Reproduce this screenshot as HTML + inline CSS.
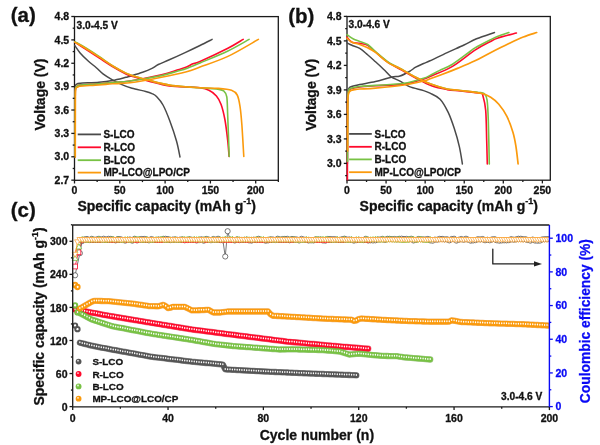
<!DOCTYPE html>
<html><head><meta charset="utf-8"><style>
html,body{margin:0;padding:0;background:#fff;}
svg{display:block;will-change:transform;filter:blur(0.3px);}
text{font-family:"Liberation Sans",sans-serif;font-weight:bold;}
.gc{fill:#fff;stroke:#555;stroke-width:.8}.rs{fill:#fff;stroke:#ff0a2c;stroke-width:.8}.gt{fill:#fff;stroke:#78c244;stroke-width:.8}.ot{fill:#fff;stroke:#fa9d2a;stroke-width:.7}
</style></head><body>
<svg width="600" height="445" viewBox="0 0 600 445">
<rect width="600" height="445" fill="#fff"/>
<rect x="74.50" y="16.60" width="203.80" height="163.70" fill="none" stroke="#1a1a1a" stroke-width="1.3"/>
<path d="M74.70,45.50 C75.60,46.73 77.85,50.32 80.10,52.90 C82.35,55.48 85.50,58.53 88.20,61.00 C90.90,63.47 93.83,65.57 96.30,67.70 C98.77,69.83 100.32,71.78 103.00,73.80 C105.68,75.82 109.25,78.00 112.40,79.80 C115.55,81.60 118.63,83.18 121.90,84.60 C125.17,86.02 128.03,87.17 132.00,88.30 C135.97,89.43 142.37,90.52 145.70,91.40 C149.03,92.28 150.20,92.73 152.00,93.60 C153.80,94.47 154.67,94.70 156.50,96.60 C158.33,98.50 160.79,100.97 163.00,105.00 C165.21,109.03 167.50,114.75 169.75,120.75 C172.00,126.75 174.79,134.96 176.50,141.00 C178.21,147.04 179.42,154.33 180.00,157.00" fill="none" stroke="#4a4a4a" stroke-width="1.5" stroke-linejoin="round" stroke-linecap="round" />
<path d="M75.00,157.00 C75.02,147.50 75.03,111.83 75.10,100.00 C75.17,88.17 75.08,88.67 75.40,86.00 C75.72,83.33 76.22,84.47 77.00,84.00 C77.78,83.53 76.43,83.50 80.10,83.20 C83.77,82.90 93.62,82.65 99.00,82.20 C104.38,81.75 107.92,81.32 112.40,80.50 C116.88,79.68 122.97,78.02 125.90,77.30 C128.83,76.58 127.22,77.03 130.00,76.20 C132.78,75.37 138.93,73.60 142.60,72.30 C146.27,71.00 149.38,69.70 152.00,68.40 C154.62,67.10 155.42,65.93 158.30,64.50 C161.18,63.07 164.83,61.78 169.30,59.80 C173.77,57.82 179.98,54.98 185.10,52.60 C190.22,50.22 195.50,47.70 200.00,45.50 C204.50,43.30 210.08,40.42 212.10,39.40" fill="none" stroke="#4a4a4a" stroke-width="1.5" stroke-linejoin="round" stroke-linecap="round" />
<path d="M75.10,157.00 C75.12,147.50 75.12,111.50 75.20,100.00 C75.28,88.50 75.22,90.33 75.60,88.00 C75.98,85.67 76.77,86.50 77.50,86.00 C78.23,85.50 76.42,85.37 80.00,85.00 C83.58,84.63 93.60,84.22 99.00,83.80 C104.40,83.38 107.23,82.97 112.40,82.50 C117.57,82.03 121.82,82.28 130.00,81.00 C138.18,79.72 153.63,76.62 161.50,74.80 C169.37,72.98 173.02,71.40 177.20,70.10 C181.38,68.80 183.98,68.05 186.60,67.00 C189.22,65.95 190.67,64.72 192.90,63.80 C195.13,62.88 194.17,64.08 200.00,61.50 C205.83,58.92 220.70,51.98 227.90,48.30 C235.10,44.62 240.65,40.88 243.20,39.40" fill="none" stroke="#ff0a2c" stroke-width="1.6" stroke-linejoin="round" stroke-linecap="round" />
<path d="M74.70,42.10 C76.50,43.27 81.45,46.48 85.50,49.10 C89.55,51.72 94.52,54.88 99.00,57.80 C103.48,60.72 107.92,63.90 112.40,66.60 C116.88,69.30 122.34,72.30 125.90,74.00 C129.46,75.70 129.92,75.60 133.75,76.80 C137.58,78.00 142.97,79.67 148.90,81.20 C154.83,82.73 162.45,85.02 169.30,86.00 C176.15,86.98 184.88,86.80 190.00,87.10 C195.12,87.40 196.85,87.27 200.00,87.80 C203.15,88.33 206.17,88.95 208.90,90.30 C211.63,91.65 214.37,93.55 216.40,95.90 C218.43,98.25 219.68,100.47 221.10,104.40 C222.52,108.33 223.80,113.52 224.90,119.50 C226.00,125.48 227.00,134.13 227.70,140.30 C228.40,146.47 228.87,153.80 229.10,156.50" fill="none" stroke="#ff0a2c" stroke-width="1.6" stroke-linejoin="round" stroke-linecap="round" />
<path d="M75.10,157.00 C75.12,147.50 75.12,111.50 75.20,100.00 C75.28,88.50 75.22,90.33 75.60,88.00 C75.98,85.67 76.77,86.50 77.50,86.00 C78.23,85.50 76.42,85.37 80.00,85.00 C83.58,84.63 93.60,84.22 99.00,83.80 C104.40,83.38 107.23,82.97 112.40,82.50 C117.57,82.03 121.82,82.15 130.00,81.00 C138.18,79.85 153.63,77.23 161.50,75.60 C169.37,73.97 173.02,72.38 177.20,71.20 C181.38,70.02 182.80,69.87 186.60,68.50 C190.40,67.13 193.12,65.92 200.00,63.00 C206.88,60.08 219.72,54.93 227.90,51.00 C236.08,47.07 245.57,41.33 249.10,39.40" fill="none" stroke="#78c244" stroke-width="1.6" stroke-linejoin="round" stroke-linecap="round" />
<path d="M74.70,41.60 C76.50,42.62 81.45,45.23 85.50,47.70 C89.55,50.17 94.52,53.40 99.00,56.40 C103.48,59.40 107.92,62.92 112.40,65.70 C116.88,68.48 122.34,71.40 125.90,73.10 C129.46,74.80 129.92,74.70 133.75,75.90 C137.58,77.10 142.97,78.77 148.90,80.30 C154.83,81.83 162.45,83.97 169.30,85.10 C176.15,86.23 184.88,86.65 190.00,87.10 C195.12,87.55 195.60,87.50 200.00,87.80 C204.40,88.10 212.40,88.33 216.40,88.90 C220.40,89.47 222.27,89.87 224.00,91.20 C225.73,92.53 226.18,92.82 226.80,96.90 C227.42,100.98 227.30,105.77 227.70,115.70 C228.10,125.63 228.95,149.70 229.20,156.50" fill="none" stroke="#78c244" stroke-width="1.6" stroke-linejoin="round" stroke-linecap="round" />
<path d="M75.30,157.00 C75.32,147.50 75.32,111.33 75.40,100.00 C75.48,88.67 75.37,91.17 75.80,89.00 C76.23,86.83 77.30,87.47 78.00,87.00 C78.70,86.53 76.50,86.53 80.00,86.20 C83.50,85.87 93.60,85.40 99.00,85.00 C104.40,84.60 107.23,84.18 112.40,83.80 C117.57,83.42 121.82,83.80 130.00,82.70 C138.18,81.60 152.07,79.03 161.50,77.20 C170.93,75.37 180.18,73.40 186.60,71.70 C193.02,70.00 193.12,69.55 200.00,67.00 C206.88,64.45 218.17,61.00 227.90,56.40 C237.63,51.80 253.32,42.23 258.40,39.40" fill="none" stroke="#fb9a0c" stroke-width="1.6" stroke-linejoin="round" stroke-linecap="round" />
<path d="M74.70,42.10 C76.50,43.12 81.45,45.73 85.50,48.20 C89.55,50.67 94.52,53.98 99.00,56.90 C103.48,59.82 107.92,63.00 112.40,65.70 C116.88,68.40 122.34,71.40 125.90,73.10 C129.46,74.80 129.92,74.70 133.75,75.90 C137.58,77.10 142.97,78.77 148.90,80.30 C154.83,81.83 162.45,83.97 169.30,85.10 C176.15,86.23 184.88,86.65 190.00,87.10 C195.12,87.55 195.28,87.58 200.00,87.80 C204.72,88.02 213.05,87.98 218.30,88.40 C223.55,88.82 228.35,89.20 231.50,90.30 C234.65,91.40 235.78,92.33 237.20,95.00 C238.62,97.67 239.22,101.27 240.00,106.30 C240.78,111.33 241.27,116.83 241.90,125.20 C242.53,133.57 243.48,151.28 243.80,156.50" fill="none" stroke="#fb9a0c" stroke-width="1.6" stroke-linejoin="round" stroke-linecap="round" />
<line x1="71.30" y1="180.16" x2="74.50" y2="180.16" stroke="#1a1a1a" stroke-width="1.3" />
<text x="69.20" y="183.86" font-size="10.5" text-anchor="end" fill="#111" stroke="#111" stroke-width="0.3" >2.7</text>
<line x1="71.30" y1="156.78" x2="74.50" y2="156.78" stroke="#1a1a1a" stroke-width="1.3" />
<text x="69.20" y="160.48" font-size="10.5" text-anchor="end" fill="#111" stroke="#111" stroke-width="0.3" >3.0</text>
<line x1="71.30" y1="133.40" x2="74.50" y2="133.40" stroke="#1a1a1a" stroke-width="1.3" />
<text x="69.20" y="137.10" font-size="10.5" text-anchor="end" fill="#111" stroke="#111" stroke-width="0.3" >3.3</text>
<line x1="71.30" y1="110.02" x2="74.50" y2="110.02" stroke="#1a1a1a" stroke-width="1.3" />
<text x="69.20" y="113.72" font-size="10.5" text-anchor="end" fill="#111" stroke="#111" stroke-width="0.3" >3.6</text>
<line x1="71.30" y1="86.64" x2="74.50" y2="86.64" stroke="#1a1a1a" stroke-width="1.3" />
<text x="69.20" y="90.34" font-size="10.5" text-anchor="end" fill="#111" stroke="#111" stroke-width="0.3" >3.9</text>
<line x1="71.30" y1="63.26" x2="74.50" y2="63.26" stroke="#1a1a1a" stroke-width="1.3" />
<text x="69.20" y="66.96" font-size="10.5" text-anchor="end" fill="#111" stroke="#111" stroke-width="0.3" >4.2</text>
<line x1="71.30" y1="39.88" x2="74.50" y2="39.88" stroke="#1a1a1a" stroke-width="1.3" />
<text x="69.20" y="43.58" font-size="10.5" text-anchor="end" fill="#111" stroke="#111" stroke-width="0.3" >4.5</text>
<line x1="71.30" y1="16.50" x2="74.50" y2="16.50" stroke="#1a1a1a" stroke-width="1.3" />
<text x="69.20" y="20.20" font-size="10.5" text-anchor="end" fill="#111" stroke="#111" stroke-width="0.3" >4.8</text>
<line x1="72.70" y1="168.47" x2="74.50" y2="168.47" stroke="#1a1a1a" stroke-width="1.3" />
<line x1="72.70" y1="145.09" x2="74.50" y2="145.09" stroke="#1a1a1a" stroke-width="1.3" />
<line x1="72.70" y1="121.71" x2="74.50" y2="121.71" stroke="#1a1a1a" stroke-width="1.3" />
<line x1="72.70" y1="98.33" x2="74.50" y2="98.33" stroke="#1a1a1a" stroke-width="1.3" />
<line x1="72.70" y1="74.95" x2="74.50" y2="74.95" stroke="#1a1a1a" stroke-width="1.3" />
<line x1="72.70" y1="51.57" x2="74.50" y2="51.57" stroke="#1a1a1a" stroke-width="1.3" />
<line x1="72.70" y1="28.19" x2="74.50" y2="28.19" stroke="#1a1a1a" stroke-width="1.3" />
<line x1="74.50" y1="180.30" x2="74.50" y2="183.50" stroke="#1a1a1a" stroke-width="1.3" />
<text x="74.50" y="194.20" font-size="10.5" text-anchor="middle" fill="#111" stroke="#111" stroke-width="0.3" >0</text>
<line x1="119.80" y1="180.30" x2="119.80" y2="183.50" stroke="#1a1a1a" stroke-width="1.3" />
<text x="119.80" y="194.20" font-size="10.5" text-anchor="middle" fill="#111" stroke="#111" stroke-width="0.3" >50</text>
<line x1="165.10" y1="180.30" x2="165.10" y2="183.50" stroke="#1a1a1a" stroke-width="1.3" />
<text x="165.10" y="194.20" font-size="10.5" text-anchor="middle" fill="#111" stroke="#111" stroke-width="0.3" >100</text>
<line x1="210.40" y1="180.30" x2="210.40" y2="183.50" stroke="#1a1a1a" stroke-width="1.3" />
<text x="210.40" y="194.20" font-size="10.5" text-anchor="middle" fill="#111" stroke="#111" stroke-width="0.3" >150</text>
<line x1="255.70" y1="180.30" x2="255.70" y2="183.50" stroke="#1a1a1a" stroke-width="1.3" />
<text x="255.70" y="194.20" font-size="10.5" text-anchor="middle" fill="#111" stroke="#111" stroke-width="0.3" >200</text>
<line x1="97.15" y1="180.30" x2="97.15" y2="182.10" stroke="#1a1a1a" stroke-width="1.3" />
<line x1="142.45" y1="180.30" x2="142.45" y2="182.10" stroke="#1a1a1a" stroke-width="1.3" />
<line x1="187.75" y1="180.30" x2="187.75" y2="182.10" stroke="#1a1a1a" stroke-width="1.3" />
<line x1="233.05" y1="180.30" x2="233.05" y2="182.10" stroke="#1a1a1a" stroke-width="1.3" />
<line x1="278.35" y1="180.30" x2="278.35" y2="182.10" stroke="#1a1a1a" stroke-width="1.3" />
<line x1="77.70" y1="134.40" x2="101.00" y2="134.40" stroke="#4a4a4a" stroke-width="1.8" />
<text x="103.40" y="138.00" font-size="10" text-anchor="start" fill="#111" stroke="#111" stroke-width="0.3" >S-LCO</text>
<line x1="77.70" y1="147.30" x2="101.00" y2="147.30" stroke="#ff0a2c" stroke-width="1.8" />
<text x="103.40" y="150.90" font-size="10" text-anchor="start" fill="#111" stroke="#111" stroke-width="0.3" >R-LCO</text>
<line x1="77.70" y1="160.20" x2="101.00" y2="160.20" stroke="#78c244" stroke-width="1.8" />
<text x="103.40" y="163.80" font-size="10" text-anchor="start" fill="#111" stroke="#111" stroke-width="0.3" >B-LCO</text>
<line x1="77.70" y1="172.60" x2="101.00" y2="172.60" stroke="#fb9a0c" stroke-width="1.8" />
<text x="103.40" y="176.20" font-size="10" text-anchor="start" fill="#111" stroke="#111" stroke-width="0.3" >MP-LCO@LPO/CP</text>
<text x="76.50" y="28.50" font-size="10.2" text-anchor="start" fill="#111" stroke="#111" stroke-width="0.3" >3.0-4.5 V</text>
<text x="44.80" y="94.50" font-size="14" text-anchor="middle" fill="#111" stroke="#111" stroke-width="0.3" transform="rotate(-90 44.80 94.50)" >Voltage (V)</text>
<text x="166.70" y="210.60" font-size="14" text-anchor="middle" fill="#111" stroke="#111" stroke-width="0.3" >Specific capacity (mAh g<tspan dy="-6.5" font-size="9">-1</tspan><tspan dy="6.5">)</tspan></text>
<text x="10.70" y="22.40" font-size="20.5" text-anchor="start" fill="#111" stroke="#111" stroke-width="0.3" >(a)</text>
<rect x="347.00" y="16.50" width="203.30" height="163.70" fill="none" stroke="#1a1a1a" stroke-width="1.3"/>
<path d="M347.00,42.90 C347.82,43.30 349.78,44.38 351.90,45.30 C354.02,46.22 357.08,46.83 359.70,48.40 C362.32,49.97 364.97,52.47 367.60,54.70 C370.23,56.93 372.62,59.17 375.50,61.80 C378.38,64.43 382.28,68.00 384.90,70.50 C387.52,73.00 388.68,75.03 391.20,76.80 C393.72,78.57 396.97,79.47 400.00,81.10 C403.03,82.73 405.47,85.02 409.40,86.60 C413.33,88.18 420.17,89.50 423.60,90.60 C427.03,91.70 427.25,91.77 430.00,93.20 C432.75,94.63 437.07,96.00 440.10,99.20 C443.13,102.40 445.83,107.50 448.20,112.40 C450.57,117.30 452.43,122.87 454.30,128.60 C456.17,134.33 458.05,140.90 459.40,146.80 C460.75,152.70 461.90,161.13 462.40,164.00" fill="none" stroke="#4a4a4a" stroke-width="1.5" stroke-linejoin="round" stroke-linecap="round" />
<path d="M347.40,164.00 C347.42,155.00 347.43,121.83 347.50,110.00 C347.57,98.17 347.58,96.58 347.80,93.00 C348.02,89.42 348.27,89.53 348.80,88.50 C349.33,87.47 349.18,87.45 351.00,86.80 C352.82,86.15 355.62,85.48 359.70,84.60 C363.78,83.72 370.25,82.73 375.50,81.50 C380.75,80.27 387.12,78.12 391.20,77.20 C395.28,76.28 396.97,76.95 400.00,76.00 C403.03,75.05 406.78,72.97 409.40,71.50 C412.02,70.03 413.33,68.53 415.70,67.20 C418.07,65.87 421.22,64.57 423.60,63.50 C425.98,62.43 426.07,62.62 430.00,60.80 C433.93,58.98 441.53,55.23 447.20,52.60 C452.87,49.97 459.12,47.30 464.00,45.00 C468.88,42.70 471.42,40.88 476.50,38.80 C481.58,36.72 491.50,33.55 494.50,32.50" fill="none" stroke="#4a4a4a" stroke-width="1.5" stroke-linejoin="round" stroke-linecap="round" />
<path d="M347.40,180.00 C347.42,168.33 347.43,124.17 347.50,110.00 C347.57,95.83 347.58,98.25 347.80,95.00 C348.02,91.75 348.27,91.53 348.80,90.50 C349.33,89.47 349.18,89.38 351.00,88.80 C352.82,88.22 355.62,87.50 359.70,87.00 C363.78,86.50 368.12,86.28 375.50,85.80 C382.88,85.32 395.98,85.23 404.00,84.10 C412.02,82.97 419.27,80.27 423.60,79.00 C427.93,77.73 425.18,78.60 430.00,76.50 C434.82,74.40 445.00,70.80 452.50,66.40 C460.00,62.00 468.75,54.22 475.00,50.10 C481.25,45.98 486.17,43.72 490.00,41.70 C493.83,39.68 493.60,39.45 498.00,38.00 C502.40,36.55 513.33,33.83 516.40,33.00" fill="none" stroke="#ff0a2c" stroke-width="1.6" stroke-linejoin="round" stroke-linecap="round" />
<path d="M347.00,37.10 C347.82,37.95 349.78,41.15 351.90,42.20 C354.02,43.25 357.08,42.88 359.70,43.40 C362.32,43.92 364.97,43.87 367.60,45.30 C370.23,46.73 372.10,49.15 375.50,52.00 C378.90,54.85 383.28,59.20 388.00,62.40 C392.72,65.60 399.18,68.60 403.80,71.20 C408.42,73.80 411.08,75.57 415.70,78.00 C420.32,80.43 426.25,83.87 431.50,85.80 C436.75,87.73 442.38,88.73 447.20,89.60 C452.02,90.47 454.83,90.40 460.40,91.00 C465.97,91.60 476.83,92.33 480.60,93.20 C484.37,94.07 482.15,93.33 483.00,96.20 C483.85,99.07 485.08,102.98 485.70,110.40 C486.32,117.82 486.43,131.77 486.70,140.70 C486.97,149.63 487.20,160.12 487.30,164.00" fill="none" stroke="#ff0a2c" stroke-width="1.6" stroke-linejoin="round" stroke-linecap="round" />
<path d="M347.50,161.50 C347.52,152.92 347.53,121.08 347.60,110.00 C347.67,98.92 347.70,98.33 347.90,95.00 C348.10,91.67 348.28,91.13 348.80,90.00 C349.32,88.87 349.18,88.78 351.00,88.20 C352.82,87.62 355.62,86.97 359.70,86.50 C363.78,86.03 368.12,85.93 375.50,85.40 C382.88,84.87 395.98,84.50 404.00,83.30 C412.02,82.10 419.27,79.52 423.60,78.20 C427.93,76.88 427.38,76.67 430.00,75.40 C432.62,74.13 435.55,72.47 439.30,70.60 C443.05,68.73 447.38,67.38 452.50,64.20 C457.62,61.02 466.25,54.22 470.00,51.50 C473.75,48.78 471.67,49.82 475.00,47.90 C478.33,45.98 486.17,41.95 490.00,40.00 C493.83,38.05 494.85,37.45 498.00,36.20 C501.15,34.95 507.08,33.12 508.90,32.50" fill="none" stroke="#78c244" stroke-width="1.6" stroke-linejoin="round" stroke-linecap="round" />
<path d="M347.00,34.60 C348.07,35.33 351.28,37.87 353.40,39.00 C355.52,40.13 357.33,40.48 359.70,41.40 C362.07,42.32 364.97,42.80 367.60,44.50 C370.23,46.20 372.10,48.72 375.50,51.60 C378.90,54.48 383.28,58.65 388.00,61.80 C392.72,64.95 399.18,67.93 403.80,70.50 C408.42,73.07 411.08,74.90 415.70,77.20 C420.32,79.50 426.25,82.33 431.50,84.30 C436.75,86.27 442.38,87.97 447.20,89.00 C452.02,90.03 454.83,89.90 460.40,90.50 C465.97,91.10 476.55,91.98 480.60,92.60 C484.65,93.22 483.62,92.93 484.70,94.20 C485.78,95.47 486.50,95.82 487.10,100.20 C487.70,104.58 487.93,109.87 488.30,120.50 C488.67,131.13 489.13,156.75 489.30,164.00" fill="none" stroke="#78c244" stroke-width="1.6" stroke-linejoin="round" stroke-linecap="round" />
<path d="M347.60,151.00 C347.62,144.17 347.63,119.00 347.70,110.00 C347.77,101.00 347.78,99.92 348.00,97.00 C348.22,94.08 348.50,93.57 349.00,92.50 C349.50,91.43 350.00,91.08 351.00,90.60 C352.00,90.12 353.55,89.87 355.00,89.60 C356.45,89.33 356.28,89.25 359.70,89.00 C363.12,88.75 368.12,88.77 375.50,88.10 C382.88,87.43 395.98,86.18 404.00,85.00 C412.02,83.82 419.27,82.03 423.60,81.00 C427.93,79.97 427.07,79.83 430.00,78.80 C432.93,77.77 436.52,76.58 441.20,74.80 C445.88,73.02 452.47,70.43 458.10,68.10 C463.73,65.77 469.68,63.33 475.00,60.80 C480.32,58.27 484.35,55.78 490.00,52.90 C495.65,50.02 503.35,46.15 508.90,43.50 C514.45,40.85 518.67,38.83 523.30,37.00 C527.93,35.17 534.47,33.25 536.70,32.50" fill="none" stroke="#fb9a0c" stroke-width="1.7" stroke-linejoin="round" stroke-linecap="round" />
<path d="M347.00,38.20 C347.82,38.87 349.78,41.15 351.90,42.20 C354.02,43.25 357.08,43.58 359.70,44.50 C362.32,45.42 364.97,46.38 367.60,47.70 C370.23,49.02 372.10,49.92 375.50,52.40 C378.90,54.88 383.92,59.92 388.00,62.60 C392.08,65.28 395.38,66.07 400.00,68.50 C404.62,70.93 410.45,74.57 415.70,77.20 C420.95,79.83 426.25,82.33 431.50,84.30 C436.75,86.27 442.38,87.97 447.20,89.00 C452.02,90.03 454.83,89.80 460.40,90.50 C465.97,91.20 475.55,92.08 480.60,93.20 C485.65,94.32 487.67,95.35 490.70,97.20 C493.73,99.05 496.10,101.10 498.80,104.30 C501.50,107.50 504.53,111.68 506.90,116.40 C509.27,121.12 511.48,127.53 513.00,132.60 C514.52,137.67 515.15,141.57 516.00,146.80 C516.85,152.03 517.75,161.13 518.10,164.00" fill="none" stroke="#fb9a0c" stroke-width="1.7" stroke-linejoin="round" stroke-linecap="round" />
<line x1="343.80" y1="163.40" x2="347.00" y2="163.40" stroke="#1a1a1a" stroke-width="1.3" />
<text x="341.60" y="167.10" font-size="10.5" text-anchor="end" fill="#111" stroke="#111" stroke-width="0.3" >3.0</text>
<line x1="343.80" y1="138.90" x2="347.00" y2="138.90" stroke="#1a1a1a" stroke-width="1.3" />
<text x="341.60" y="142.60" font-size="10.5" text-anchor="end" fill="#111" stroke="#111" stroke-width="0.3" >3.3</text>
<line x1="343.80" y1="114.40" x2="347.00" y2="114.40" stroke="#1a1a1a" stroke-width="1.3" />
<text x="341.60" y="118.10" font-size="10.5" text-anchor="end" fill="#111" stroke="#111" stroke-width="0.3" >3.6</text>
<line x1="343.80" y1="89.90" x2="347.00" y2="89.90" stroke="#1a1a1a" stroke-width="1.3" />
<text x="341.60" y="93.60" font-size="10.5" text-anchor="end" fill="#111" stroke="#111" stroke-width="0.3" >3.9</text>
<line x1="343.80" y1="65.40" x2="347.00" y2="65.40" stroke="#1a1a1a" stroke-width="1.3" />
<text x="341.60" y="69.10" font-size="10.5" text-anchor="end" fill="#111" stroke="#111" stroke-width="0.3" >4.2</text>
<line x1="343.80" y1="40.90" x2="347.00" y2="40.90" stroke="#1a1a1a" stroke-width="1.3" />
<text x="341.60" y="44.60" font-size="10.5" text-anchor="end" fill="#111" stroke="#111" stroke-width="0.3" >4.5</text>
<line x1="343.80" y1="16.40" x2="347.00" y2="16.40" stroke="#1a1a1a" stroke-width="1.3" />
<text x="341.60" y="20.10" font-size="10.5" text-anchor="end" fill="#111" stroke="#111" stroke-width="0.3" >4.8</text>
<line x1="345.20" y1="175.65" x2="347.00" y2="175.65" stroke="#1a1a1a" stroke-width="1.3" />
<line x1="345.20" y1="151.15" x2="347.00" y2="151.15" stroke="#1a1a1a" stroke-width="1.3" />
<line x1="345.20" y1="126.65" x2="347.00" y2="126.65" stroke="#1a1a1a" stroke-width="1.3" />
<line x1="345.20" y1="102.15" x2="347.00" y2="102.15" stroke="#1a1a1a" stroke-width="1.3" />
<line x1="345.20" y1="77.65" x2="347.00" y2="77.65" stroke="#1a1a1a" stroke-width="1.3" />
<line x1="345.20" y1="53.15" x2="347.00" y2="53.15" stroke="#1a1a1a" stroke-width="1.3" />
<line x1="345.20" y1="28.65" x2="347.00" y2="28.65" stroke="#1a1a1a" stroke-width="1.3" />
<line x1="347.00" y1="180.20" x2="347.00" y2="183.40" stroke="#1a1a1a" stroke-width="1.3" />
<text x="347.00" y="194.20" font-size="10.5" text-anchor="middle" fill="#111" stroke="#111" stroke-width="0.3" >0</text>
<line x1="386.07" y1="180.20" x2="386.07" y2="183.40" stroke="#1a1a1a" stroke-width="1.3" />
<text x="386.07" y="194.20" font-size="10.5" text-anchor="middle" fill="#111" stroke="#111" stroke-width="0.3" >50</text>
<line x1="425.15" y1="180.20" x2="425.15" y2="183.40" stroke="#1a1a1a" stroke-width="1.3" />
<text x="425.15" y="194.20" font-size="10.5" text-anchor="middle" fill="#111" stroke="#111" stroke-width="0.3" >100</text>
<line x1="464.23" y1="180.20" x2="464.23" y2="183.40" stroke="#1a1a1a" stroke-width="1.3" />
<text x="464.23" y="194.20" font-size="10.5" text-anchor="middle" fill="#111" stroke="#111" stroke-width="0.3" >150</text>
<line x1="503.30" y1="180.20" x2="503.30" y2="183.40" stroke="#1a1a1a" stroke-width="1.3" />
<text x="503.30" y="194.20" font-size="10.5" text-anchor="middle" fill="#111" stroke="#111" stroke-width="0.3" >200</text>
<line x1="542.38" y1="180.20" x2="542.38" y2="183.40" stroke="#1a1a1a" stroke-width="1.3" />
<text x="542.38" y="194.20" font-size="10.5" text-anchor="middle" fill="#111" stroke="#111" stroke-width="0.3" >250</text>
<line x1="366.54" y1="180.20" x2="366.54" y2="182.00" stroke="#1a1a1a" stroke-width="1.3" />
<line x1="405.61" y1="180.20" x2="405.61" y2="182.00" stroke="#1a1a1a" stroke-width="1.3" />
<line x1="444.69" y1="180.20" x2="444.69" y2="182.00" stroke="#1a1a1a" stroke-width="1.3" />
<line x1="483.76" y1="180.20" x2="483.76" y2="182.00" stroke="#1a1a1a" stroke-width="1.3" />
<line x1="522.84" y1="180.20" x2="522.84" y2="182.00" stroke="#1a1a1a" stroke-width="1.3" />
<line x1="349.10" y1="133.90" x2="371.80" y2="133.90" stroke="#4a4a4a" stroke-width="1.8" />
<text x="374.50" y="137.50" font-size="10" text-anchor="start" fill="#111" stroke="#111" stroke-width="0.3" >S-LCO</text>
<line x1="349.10" y1="146.80" x2="371.80" y2="146.80" stroke="#ff0a2c" stroke-width="1.8" />
<text x="374.50" y="150.40" font-size="10" text-anchor="start" fill="#111" stroke="#111" stroke-width="0.3" >R-LCO</text>
<line x1="349.10" y1="159.40" x2="371.80" y2="159.40" stroke="#78c244" stroke-width="1.8" />
<text x="374.50" y="163.00" font-size="10" text-anchor="start" fill="#111" stroke="#111" stroke-width="0.3" >B-LCO</text>
<line x1="349.10" y1="172.20" x2="371.80" y2="172.20" stroke="#fb9a0c" stroke-width="1.8" />
<text x="374.50" y="175.80" font-size="10" text-anchor="start" fill="#111" stroke="#111" stroke-width="0.3" >MP-LCO@LPO/CP</text>
<text x="348.50" y="28.40" font-size="10.2" text-anchor="start" fill="#111" stroke="#111" stroke-width="0.3" >3.0-4.6 V</text>
<text x="315.70" y="94.80" font-size="14" text-anchor="middle" fill="#111" stroke="#111" stroke-width="0.3" transform="rotate(-90 315.70 94.80)" >Voltage (V)</text>
<text x="448.80" y="210.60" font-size="14" text-anchor="middle" fill="#111" stroke="#111" stroke-width="0.3" >Specific capacity (mAh g<tspan dy="-6.5" font-size="9">-1</tspan><tspan dy="6.5">)</tspan></text>
<text x="288.20" y="22.60" font-size="20.5" text-anchor="start" fill="#111" stroke="#111" stroke-width="0.3" >(b)</text>
<clipPath id="cc"><rect x="60" y="200" width="489.4" height="220"/></clipPath><g clip-path="url(#cc)">
<path d="M75.08,275.30 L79.85,253.20 L82.23,241.00 L84.62,239.35 L87.00,239.00 L89.38,240.00 L91.77,238.84 L94.15,239.77 L96.53,239.43 L98.92,238.82 L101.30,239.71 L103.69,238.77 L106.07,239.57 L108.45,238.84 L110.84,238.88 L113.22,239.55 L115.60,240.35 L117.99,238.95 L120.37,239.15 L122.75,239.95 L125.14,240.60 L127.52,239.85 L129.90,239.49 L132.29,240.65 L134.67,238.79 L137.05,240.42 L139.44,239.28 L141.82,238.99 L144.21,238.94 L146.59,239.32 L148.97,240.33 L151.36,239.06 L153.74,239.86 L156.12,239.98 L158.51,239.44 L160.89,239.80 L163.27,238.83 L165.66,238.82 L168.04,239.11 L170.42,240.06 L172.81,239.56 L175.19,239.33 L177.57,239.87 L179.96,239.61 L182.34,239.30 L184.72,240.29 L187.11,240.10 L189.49,239.19 L191.88,239.85 L194.26,239.75 L196.64,240.45 L199.03,240.16 L201.41,239.28 L203.79,240.66 L206.18,238.94 L208.56,239.54 L210.94,240.21 L213.33,239.00 L215.71,239.68 L218.09,238.78 L220.48,240.04 L222.86,240.23 L225.24,256.50 L227.63,231.20 L230.01,239.60 L232.39,239.85 L234.78,240.45 L237.16,239.33 L239.55,240.09 L241.93,239.89 L244.31,239.86 L246.70,239.61 L249.08,240.38 L251.46,240.59 L253.85,239.65 L256.23,240.03 L258.61,238.82 L261.00,240.10 L263.38,239.99 L265.76,240.69 L268.15,240.34 L270.53,239.27 L272.91,239.47 L275.30,240.04 L277.68,238.75 L280.06,239.62 L282.45,239.04 L284.83,238.93 L287.22,238.82 L289.60,240.24 L291.98,238.96 L294.37,239.20 L296.75,239.48 L299.13,240.44 L301.52,238.86 L303.90,239.60 L306.28,239.80 L308.67,240.47 L311.05,240.34 L313.43,240.43 L315.82,239.26 L318.20,239.53 L320.58,239.42 L322.97,240.47 L325.35,240.62 L327.73,239.00 L330.12,239.05 L332.50,239.16 L334.88,239.17 L337.27,239.67 L339.65,239.88 L342.04,239.23 L344.42,238.71 L346.80,239.54 L349.19,239.44 L351.57,239.83 L353.95,240.61 L356.34,240.08 L358.72,239.73 L361.10,239.94 L363.49,240.05 L365.87,238.81 L368.25,240.50 L370.64,240.26 L373.02,240.45 L375.40,240.30 L377.79,239.48 L380.17,239.50 L382.56,238.91 L384.94,239.97 L387.32,238.82 L389.71,238.83 L392.09,239.12 L394.47,239.02 L396.86,239.38 L399.24,238.81 L401.62,238.70 L404.01,239.00 L406.39,238.90 L408.77,239.43 L411.16,238.75 L413.54,240.45 L415.92,239.93 L418.31,239.00 L420.69,239.20 L423.07,239.39 L425.46,239.43 L427.84,238.95 L430.23,240.40 L432.61,240.69 L434.99,239.63 L437.38,239.67 L439.76,238.87 L442.14,238.90 L444.53,239.39 L446.91,239.23 L449.29,240.36 L451.68,239.02 L454.06,238.75 L456.44,240.60 L458.83,239.76 L461.21,238.99 L463.59,239.79 L465.98,238.75 L468.36,239.76 L470.74,240.66 L473.13,240.43 L475.51,240.09 L477.90,239.22 L480.28,239.43 L482.66,239.03 L485.05,240.24 L487.43,239.77 L489.81,240.26 L492.20,239.36 L494.58,239.15 L496.96,240.32 L499.35,240.67 L501.73,240.41 L504.11,240.31 L506.50,240.34 L508.88,240.18 L511.26,239.15 L513.65,239.74 L516.03,239.41 L518.41,238.76 L520.80,238.76 L523.18,239.26 L525.57,239.22 L527.95,240.09 L530.33,240.61 L532.72,239.59 L535.10,240.57 L537.48,240.68 L539.87,240.61 L542.25,239.43 L544.63,239.14 L547.02,239.15 L549.40,239.09" fill="none" stroke="#555" stroke-width="0.8" stroke-linejoin="round" stroke-linecap="round" />
<circle cx="75.08" cy="275.30" r="2.6" class="gc"/>
<circle cx="79.85" cy="253.20" r="2.6" class="gc"/>
<circle cx="82.23" cy="241.00" r="2.6" class="gc"/>
<circle cx="84.62" cy="239.35" r="2.6" class="gc"/>
<circle cx="87.00" cy="239.00" r="2.6" class="gc"/>
<circle cx="89.38" cy="240.00" r="2.6" class="gc"/>
<circle cx="91.77" cy="238.84" r="2.6" class="gc"/>
<circle cx="94.15" cy="239.77" r="2.6" class="gc"/>
<circle cx="96.53" cy="239.43" r="2.6" class="gc"/>
<circle cx="98.92" cy="238.82" r="2.6" class="gc"/>
<circle cx="101.30" cy="239.71" r="2.6" class="gc"/>
<circle cx="103.69" cy="238.77" r="2.6" class="gc"/>
<circle cx="106.07" cy="239.57" r="2.6" class="gc"/>
<circle cx="108.45" cy="238.84" r="2.6" class="gc"/>
<circle cx="110.84" cy="238.88" r="2.6" class="gc"/>
<circle cx="113.22" cy="239.55" r="2.6" class="gc"/>
<circle cx="115.60" cy="240.35" r="2.6" class="gc"/>
<circle cx="117.99" cy="238.95" r="2.6" class="gc"/>
<circle cx="120.37" cy="239.15" r="2.6" class="gc"/>
<circle cx="122.75" cy="239.95" r="2.6" class="gc"/>
<circle cx="125.14" cy="240.60" r="2.6" class="gc"/>
<circle cx="127.52" cy="239.85" r="2.6" class="gc"/>
<circle cx="129.90" cy="239.49" r="2.6" class="gc"/>
<circle cx="132.29" cy="240.65" r="2.6" class="gc"/>
<circle cx="134.67" cy="238.79" r="2.6" class="gc"/>
<circle cx="137.05" cy="240.42" r="2.6" class="gc"/>
<circle cx="139.44" cy="239.28" r="2.6" class="gc"/>
<circle cx="141.82" cy="238.99" r="2.6" class="gc"/>
<circle cx="144.21" cy="238.94" r="2.6" class="gc"/>
<circle cx="146.59" cy="239.32" r="2.6" class="gc"/>
<circle cx="148.97" cy="240.33" r="2.6" class="gc"/>
<circle cx="151.36" cy="239.06" r="2.6" class="gc"/>
<circle cx="153.74" cy="239.86" r="2.6" class="gc"/>
<circle cx="156.12" cy="239.98" r="2.6" class="gc"/>
<circle cx="158.51" cy="239.44" r="2.6" class="gc"/>
<circle cx="160.89" cy="239.80" r="2.6" class="gc"/>
<circle cx="163.27" cy="238.83" r="2.6" class="gc"/>
<circle cx="165.66" cy="238.82" r="2.6" class="gc"/>
<circle cx="168.04" cy="239.11" r="2.6" class="gc"/>
<circle cx="170.42" cy="240.06" r="2.6" class="gc"/>
<circle cx="172.81" cy="239.56" r="2.6" class="gc"/>
<circle cx="175.19" cy="239.33" r="2.6" class="gc"/>
<circle cx="177.57" cy="239.87" r="2.6" class="gc"/>
<circle cx="179.96" cy="239.61" r="2.6" class="gc"/>
<circle cx="182.34" cy="239.30" r="2.6" class="gc"/>
<circle cx="184.72" cy="240.29" r="2.6" class="gc"/>
<circle cx="187.11" cy="240.10" r="2.6" class="gc"/>
<circle cx="189.49" cy="239.19" r="2.6" class="gc"/>
<circle cx="191.88" cy="239.85" r="2.6" class="gc"/>
<circle cx="194.26" cy="239.75" r="2.6" class="gc"/>
<circle cx="196.64" cy="240.45" r="2.6" class="gc"/>
<circle cx="199.03" cy="240.16" r="2.6" class="gc"/>
<circle cx="201.41" cy="239.28" r="2.6" class="gc"/>
<circle cx="203.79" cy="240.66" r="2.6" class="gc"/>
<circle cx="206.18" cy="238.94" r="2.6" class="gc"/>
<circle cx="208.56" cy="239.54" r="2.6" class="gc"/>
<circle cx="210.94" cy="240.21" r="2.6" class="gc"/>
<circle cx="213.33" cy="239.00" r="2.6" class="gc"/>
<circle cx="215.71" cy="239.68" r="2.6" class="gc"/>
<circle cx="218.09" cy="238.78" r="2.6" class="gc"/>
<circle cx="220.48" cy="240.04" r="2.6" class="gc"/>
<circle cx="222.86" cy="240.23" r="2.6" class="gc"/>
<circle cx="225.24" cy="256.50" r="2.6" class="gc"/>
<circle cx="227.63" cy="231.20" r="2.6" class="gc"/>
<circle cx="230.01" cy="239.60" r="2.6" class="gc"/>
<circle cx="232.39" cy="239.85" r="2.6" class="gc"/>
<circle cx="234.78" cy="240.45" r="2.6" class="gc"/>
<circle cx="237.16" cy="239.33" r="2.6" class="gc"/>
<circle cx="239.55" cy="240.09" r="2.6" class="gc"/>
<circle cx="241.93" cy="239.89" r="2.6" class="gc"/>
<circle cx="244.31" cy="239.86" r="2.6" class="gc"/>
<circle cx="246.70" cy="239.61" r="2.6" class="gc"/>
<circle cx="249.08" cy="240.38" r="2.6" class="gc"/>
<circle cx="251.46" cy="240.59" r="2.6" class="gc"/>
<circle cx="253.85" cy="239.65" r="2.6" class="gc"/>
<circle cx="256.23" cy="240.03" r="2.6" class="gc"/>
<circle cx="258.61" cy="238.82" r="2.6" class="gc"/>
<circle cx="261.00" cy="240.10" r="2.6" class="gc"/>
<circle cx="263.38" cy="239.99" r="2.6" class="gc"/>
<circle cx="265.76" cy="240.69" r="2.6" class="gc"/>
<circle cx="268.15" cy="240.34" r="2.6" class="gc"/>
<circle cx="270.53" cy="239.27" r="2.6" class="gc"/>
<circle cx="272.91" cy="239.47" r="2.6" class="gc"/>
<circle cx="275.30" cy="240.04" r="2.6" class="gc"/>
<circle cx="277.68" cy="238.75" r="2.6" class="gc"/>
<circle cx="280.06" cy="239.62" r="2.6" class="gc"/>
<circle cx="282.45" cy="239.04" r="2.6" class="gc"/>
<circle cx="284.83" cy="238.93" r="2.6" class="gc"/>
<circle cx="287.22" cy="238.82" r="2.6" class="gc"/>
<circle cx="289.60" cy="240.24" r="2.6" class="gc"/>
<circle cx="291.98" cy="238.96" r="2.6" class="gc"/>
<circle cx="294.37" cy="239.20" r="2.6" class="gc"/>
<circle cx="296.75" cy="239.48" r="2.6" class="gc"/>
<circle cx="299.13" cy="240.44" r="2.6" class="gc"/>
<circle cx="301.52" cy="238.86" r="2.6" class="gc"/>
<circle cx="303.90" cy="239.60" r="2.6" class="gc"/>
<circle cx="306.28" cy="239.80" r="2.6" class="gc"/>
<circle cx="308.67" cy="240.47" r="2.6" class="gc"/>
<circle cx="311.05" cy="240.34" r="2.6" class="gc"/>
<circle cx="313.43" cy="240.43" r="2.6" class="gc"/>
<circle cx="315.82" cy="239.26" r="2.6" class="gc"/>
<circle cx="318.20" cy="239.53" r="2.6" class="gc"/>
<circle cx="320.58" cy="239.42" r="2.6" class="gc"/>
<circle cx="322.97" cy="240.47" r="2.6" class="gc"/>
<circle cx="325.35" cy="240.62" r="2.6" class="gc"/>
<circle cx="327.73" cy="239.00" r="2.6" class="gc"/>
<circle cx="330.12" cy="239.05" r="2.6" class="gc"/>
<circle cx="332.50" cy="239.16" r="2.6" class="gc"/>
<circle cx="334.88" cy="239.17" r="2.6" class="gc"/>
<circle cx="337.27" cy="239.67" r="2.6" class="gc"/>
<circle cx="339.65" cy="239.88" r="2.6" class="gc"/>
<circle cx="342.04" cy="239.23" r="2.6" class="gc"/>
<circle cx="344.42" cy="238.71" r="2.6" class="gc"/>
<circle cx="346.80" cy="239.54" r="2.6" class="gc"/>
<circle cx="349.19" cy="239.44" r="2.6" class="gc"/>
<circle cx="351.57" cy="239.83" r="2.6" class="gc"/>
<circle cx="353.95" cy="240.61" r="2.6" class="gc"/>
<circle cx="356.34" cy="240.08" r="2.6" class="gc"/>
<circle cx="358.72" cy="239.73" r="2.6" class="gc"/>
<circle cx="361.10" cy="239.94" r="2.6" class="gc"/>
<circle cx="363.49" cy="240.05" r="2.6" class="gc"/>
<circle cx="365.87" cy="238.81" r="2.6" class="gc"/>
<circle cx="368.25" cy="240.50" r="2.6" class="gc"/>
<circle cx="370.64" cy="240.26" r="2.6" class="gc"/>
<circle cx="373.02" cy="240.45" r="2.6" class="gc"/>
<circle cx="375.40" cy="240.30" r="2.6" class="gc"/>
<circle cx="377.79" cy="239.48" r="2.6" class="gc"/>
<circle cx="380.17" cy="239.50" r="2.6" class="gc"/>
<circle cx="382.56" cy="238.91" r="2.6" class="gc"/>
<circle cx="384.94" cy="239.97" r="2.6" class="gc"/>
<circle cx="387.32" cy="238.82" r="2.6" class="gc"/>
<circle cx="389.71" cy="238.83" r="2.6" class="gc"/>
<circle cx="392.09" cy="239.12" r="2.6" class="gc"/>
<circle cx="394.47" cy="239.02" r="2.6" class="gc"/>
<circle cx="396.86" cy="239.38" r="2.6" class="gc"/>
<circle cx="399.24" cy="238.81" r="2.6" class="gc"/>
<circle cx="401.62" cy="238.70" r="2.6" class="gc"/>
<circle cx="404.01" cy="239.00" r="2.6" class="gc"/>
<circle cx="406.39" cy="238.90" r="2.6" class="gc"/>
<circle cx="408.77" cy="239.43" r="2.6" class="gc"/>
<circle cx="411.16" cy="238.75" r="2.6" class="gc"/>
<circle cx="413.54" cy="240.45" r="2.6" class="gc"/>
<circle cx="415.92" cy="239.93" r="2.6" class="gc"/>
<circle cx="418.31" cy="239.00" r="2.6" class="gc"/>
<circle cx="420.69" cy="239.20" r="2.6" class="gc"/>
<circle cx="423.07" cy="239.39" r="2.6" class="gc"/>
<circle cx="425.46" cy="239.43" r="2.6" class="gc"/>
<circle cx="427.84" cy="238.95" r="2.6" class="gc"/>
<circle cx="430.23" cy="240.40" r="2.6" class="gc"/>
<circle cx="432.61" cy="240.69" r="2.6" class="gc"/>
<circle cx="434.99" cy="239.63" r="2.6" class="gc"/>
<circle cx="437.38" cy="239.67" r="2.6" class="gc"/>
<circle cx="439.76" cy="238.87" r="2.6" class="gc"/>
<circle cx="442.14" cy="238.90" r="2.6" class="gc"/>
<circle cx="444.53" cy="239.39" r="2.6" class="gc"/>
<circle cx="446.91" cy="239.23" r="2.6" class="gc"/>
<circle cx="449.29" cy="240.36" r="2.6" class="gc"/>
<circle cx="451.68" cy="239.02" r="2.6" class="gc"/>
<circle cx="454.06" cy="238.75" r="2.6" class="gc"/>
<circle cx="456.44" cy="240.60" r="2.6" class="gc"/>
<circle cx="458.83" cy="239.76" r="2.6" class="gc"/>
<circle cx="461.21" cy="238.99" r="2.6" class="gc"/>
<circle cx="463.59" cy="239.79" r="2.6" class="gc"/>
<circle cx="465.98" cy="238.75" r="2.6" class="gc"/>
<circle cx="468.36" cy="239.76" r="2.6" class="gc"/>
<circle cx="470.74" cy="240.66" r="2.6" class="gc"/>
<circle cx="473.13" cy="240.43" r="2.6" class="gc"/>
<circle cx="475.51" cy="240.09" r="2.6" class="gc"/>
<circle cx="477.90" cy="239.22" r="2.6" class="gc"/>
<circle cx="480.28" cy="239.43" r="2.6" class="gc"/>
<circle cx="482.66" cy="239.03" r="2.6" class="gc"/>
<circle cx="485.05" cy="240.24" r="2.6" class="gc"/>
<circle cx="487.43" cy="239.77" r="2.6" class="gc"/>
<circle cx="489.81" cy="240.26" r="2.6" class="gc"/>
<circle cx="492.20" cy="239.36" r="2.6" class="gc"/>
<circle cx="494.58" cy="239.15" r="2.6" class="gc"/>
<circle cx="496.96" cy="240.32" r="2.6" class="gc"/>
<circle cx="499.35" cy="240.67" r="2.6" class="gc"/>
<circle cx="501.73" cy="240.41" r="2.6" class="gc"/>
<circle cx="504.11" cy="240.31" r="2.6" class="gc"/>
<circle cx="506.50" cy="240.34" r="2.6" class="gc"/>
<circle cx="508.88" cy="240.18" r="2.6" class="gc"/>
<circle cx="511.26" cy="239.15" r="2.6" class="gc"/>
<circle cx="513.65" cy="239.74" r="2.6" class="gc"/>
<circle cx="516.03" cy="239.41" r="2.6" class="gc"/>
<circle cx="518.41" cy="238.76" r="2.6" class="gc"/>
<circle cx="520.80" cy="238.76" r="2.6" class="gc"/>
<circle cx="523.18" cy="239.26" r="2.6" class="gc"/>
<circle cx="525.57" cy="239.22" r="2.6" class="gc"/>
<circle cx="527.95" cy="240.09" r="2.6" class="gc"/>
<circle cx="530.33" cy="240.61" r="2.6" class="gc"/>
<circle cx="532.72" cy="239.59" r="2.6" class="gc"/>
<circle cx="535.10" cy="240.57" r="2.6" class="gc"/>
<circle cx="537.48" cy="240.68" r="2.6" class="gc"/>
<circle cx="539.87" cy="240.61" r="2.6" class="gc"/>
<circle cx="542.25" cy="239.43" r="2.6" class="gc"/>
<circle cx="544.63" cy="239.14" r="2.6" class="gc"/>
<circle cx="547.02" cy="239.15" r="2.6" class="gc"/>
<circle cx="549.40" cy="239.09" r="2.6" class="gc"/>
<path d="M75.08,266.50 L78.42,252.30 L82.23,239.90 L84.62,239.90" fill="none" stroke="#ff0a2c" stroke-width="0.8" stroke-linejoin="round" stroke-linecap="round" />
<rect x="72.68" y="264.10" width="4.8" height="4.8" class="rs"/>
<rect x="76.02" y="249.90" width="4.8" height="4.8" class="rs"/>
<rect x="79.83" y="237.50" width="4.8" height="4.8" class="rs"/>
<rect x="82.22" y="237.50" width="4.8" height="4.8" class="rs"/>
<rect x="84.60" y="237.50" width="4.8" height="4.8" class="rs"/>
<rect x="86.98" y="237.50" width="4.8" height="4.8" class="rs"/>
<rect x="89.37" y="237.50" width="4.8" height="4.8" class="rs"/>
<rect x="91.75" y="237.50" width="4.8" height="4.8" class="rs"/>
<rect x="94.13" y="237.50" width="4.8" height="4.8" class="rs"/>
<rect x="96.52" y="237.50" width="4.8" height="4.8" class="rs"/>
<rect x="98.90" y="237.50" width="4.8" height="4.8" class="rs"/>
<rect x="101.29" y="237.50" width="4.8" height="4.8" class="rs"/>
<rect x="103.67" y="237.50" width="4.8" height="4.8" class="rs"/>
<rect x="106.05" y="237.50" width="4.8" height="4.8" class="rs"/>
<rect x="108.44" y="237.50" width="4.8" height="4.8" class="rs"/>
<rect x="110.82" y="237.50" width="4.8" height="4.8" class="rs"/>
<rect x="113.20" y="237.50" width="4.8" height="4.8" class="rs"/>
<rect x="115.59" y="237.50" width="4.8" height="4.8" class="rs"/>
<rect x="117.97" y="237.50" width="4.8" height="4.8" class="rs"/>
<rect x="120.35" y="237.50" width="4.8" height="4.8" class="rs"/>
<rect x="122.74" y="237.50" width="4.8" height="4.8" class="rs"/>
<rect x="125.12" y="237.50" width="4.8" height="4.8" class="rs"/>
<rect x="127.50" y="237.50" width="4.8" height="4.8" class="rs"/>
<rect x="129.89" y="237.50" width="4.8" height="4.8" class="rs"/>
<rect x="132.27" y="237.50" width="4.8" height="4.8" class="rs"/>
<rect x="134.65" y="237.50" width="4.8" height="4.8" class="rs"/>
<rect x="137.04" y="237.50" width="4.8" height="4.8" class="rs"/>
<rect x="139.42" y="237.50" width="4.8" height="4.8" class="rs"/>
<rect x="141.81" y="237.50" width="4.8" height="4.8" class="rs"/>
<rect x="144.19" y="237.50" width="4.8" height="4.8" class="rs"/>
<rect x="146.57" y="237.50" width="4.8" height="4.8" class="rs"/>
<rect x="148.96" y="237.50" width="4.8" height="4.8" class="rs"/>
<rect x="151.34" y="237.50" width="4.8" height="4.8" class="rs"/>
<rect x="153.72" y="237.50" width="4.8" height="4.8" class="rs"/>
<rect x="156.11" y="237.50" width="4.8" height="4.8" class="rs"/>
<rect x="158.49" y="237.50" width="4.8" height="4.8" class="rs"/>
<rect x="160.87" y="237.50" width="4.8" height="4.8" class="rs"/>
<rect x="163.26" y="237.50" width="4.8" height="4.8" class="rs"/>
<rect x="165.64" y="237.50" width="4.8" height="4.8" class="rs"/>
<rect x="168.02" y="237.50" width="4.8" height="4.8" class="rs"/>
<rect x="170.41" y="237.50" width="4.8" height="4.8" class="rs"/>
<rect x="172.79" y="237.50" width="4.8" height="4.8" class="rs"/>
<rect x="175.17" y="237.50" width="4.8" height="4.8" class="rs"/>
<rect x="177.56" y="237.50" width="4.8" height="4.8" class="rs"/>
<rect x="179.94" y="237.50" width="4.8" height="4.8" class="rs"/>
<rect x="182.32" y="237.50" width="4.8" height="4.8" class="rs"/>
<rect x="184.71" y="237.50" width="4.8" height="4.8" class="rs"/>
<rect x="187.09" y="237.50" width="4.8" height="4.8" class="rs"/>
<rect x="189.47" y="237.50" width="4.8" height="4.8" class="rs"/>
<rect x="191.86" y="237.50" width="4.8" height="4.8" class="rs"/>
<rect x="194.24" y="237.50" width="4.8" height="4.8" class="rs"/>
<rect x="196.63" y="237.50" width="4.8" height="4.8" class="rs"/>
<rect x="199.01" y="237.50" width="4.8" height="4.8" class="rs"/>
<rect x="201.39" y="237.50" width="4.8" height="4.8" class="rs"/>
<rect x="203.78" y="237.50" width="4.8" height="4.8" class="rs"/>
<rect x="206.16" y="237.50" width="4.8" height="4.8" class="rs"/>
<rect x="208.54" y="237.50" width="4.8" height="4.8" class="rs"/>
<rect x="210.93" y="237.50" width="4.8" height="4.8" class="rs"/>
<rect x="213.31" y="237.50" width="4.8" height="4.8" class="rs"/>
<rect x="215.69" y="237.50" width="4.8" height="4.8" class="rs"/>
<rect x="218.08" y="237.50" width="4.8" height="4.8" class="rs"/>
<rect x="220.46" y="237.50" width="4.8" height="4.8" class="rs"/>
<rect x="222.84" y="237.50" width="4.8" height="4.8" class="rs"/>
<rect x="225.23" y="237.50" width="4.8" height="4.8" class="rs"/>
<rect x="227.61" y="237.50" width="4.8" height="4.8" class="rs"/>
<rect x="229.99" y="237.50" width="4.8" height="4.8" class="rs"/>
<rect x="232.38" y="237.50" width="4.8" height="4.8" class="rs"/>
<rect x="234.76" y="237.50" width="4.8" height="4.8" class="rs"/>
<rect x="237.15" y="237.50" width="4.8" height="4.8" class="rs"/>
<rect x="239.53" y="237.50" width="4.8" height="4.8" class="rs"/>
<rect x="241.91" y="237.50" width="4.8" height="4.8" class="rs"/>
<rect x="244.30" y="237.50" width="4.8" height="4.8" class="rs"/>
<rect x="246.68" y="237.50" width="4.8" height="4.8" class="rs"/>
<rect x="249.06" y="237.50" width="4.8" height="4.8" class="rs"/>
<rect x="251.45" y="237.50" width="4.8" height="4.8" class="rs"/>
<rect x="253.83" y="237.50" width="4.8" height="4.8" class="rs"/>
<rect x="256.21" y="237.50" width="4.8" height="4.8" class="rs"/>
<rect x="258.60" y="237.50" width="4.8" height="4.8" class="rs"/>
<rect x="260.98" y="237.50" width="4.8" height="4.8" class="rs"/>
<rect x="263.36" y="237.50" width="4.8" height="4.8" class="rs"/>
<rect x="265.75" y="237.50" width="4.8" height="4.8" class="rs"/>
<rect x="268.13" y="237.50" width="4.8" height="4.8" class="rs"/>
<rect x="270.51" y="237.50" width="4.8" height="4.8" class="rs"/>
<rect x="272.90" y="237.50" width="4.8" height="4.8" class="rs"/>
<rect x="275.28" y="237.50" width="4.8" height="4.8" class="rs"/>
<rect x="277.66" y="237.50" width="4.8" height="4.8" class="rs"/>
<rect x="280.05" y="237.50" width="4.8" height="4.8" class="rs"/>
<rect x="282.43" y="237.50" width="4.8" height="4.8" class="rs"/>
<rect x="284.82" y="237.50" width="4.8" height="4.8" class="rs"/>
<rect x="287.20" y="237.50" width="4.8" height="4.8" class="rs"/>
<rect x="289.58" y="237.50" width="4.8" height="4.8" class="rs"/>
<rect x="291.97" y="237.50" width="4.8" height="4.8" class="rs"/>
<rect x="294.35" y="237.50" width="4.8" height="4.8" class="rs"/>
<rect x="296.73" y="237.50" width="4.8" height="4.8" class="rs"/>
<rect x="299.12" y="237.50" width="4.8" height="4.8" class="rs"/>
<rect x="301.50" y="237.50" width="4.8" height="4.8" class="rs"/>
<rect x="303.88" y="237.50" width="4.8" height="4.8" class="rs"/>
<rect x="306.27" y="237.50" width="4.8" height="4.8" class="rs"/>
<rect x="308.65" y="237.50" width="4.8" height="4.8" class="rs"/>
<rect x="311.03" y="237.50" width="4.8" height="4.8" class="rs"/>
<rect x="313.42" y="237.50" width="4.8" height="4.8" class="rs"/>
<rect x="315.80" y="237.50" width="4.8" height="4.8" class="rs"/>
<rect x="318.18" y="237.50" width="4.8" height="4.8" class="rs"/>
<rect x="320.57" y="237.50" width="4.8" height="4.8" class="rs"/>
<rect x="322.95" y="237.50" width="4.8" height="4.8" class="rs"/>
<rect x="325.33" y="237.50" width="4.8" height="4.8" class="rs"/>
<rect x="327.72" y="237.50" width="4.8" height="4.8" class="rs"/>
<rect x="330.10" y="237.50" width="4.8" height="4.8" class="rs"/>
<rect x="332.49" y="237.50" width="4.8" height="4.8" class="rs"/>
<rect x="334.87" y="237.50" width="4.8" height="4.8" class="rs"/>
<rect x="337.25" y="237.50" width="4.8" height="4.8" class="rs"/>
<rect x="339.64" y="237.50" width="4.8" height="4.8" class="rs"/>
<rect x="342.02" y="237.50" width="4.8" height="4.8" class="rs"/>
<rect x="344.40" y="237.50" width="4.8" height="4.8" class="rs"/>
<rect x="346.79" y="237.50" width="4.8" height="4.8" class="rs"/>
<rect x="349.17" y="237.50" width="4.8" height="4.8" class="rs"/>
<rect x="351.55" y="237.50" width="4.8" height="4.8" class="rs"/>
<rect x="353.94" y="237.50" width="4.8" height="4.8" class="rs"/>
<rect x="356.32" y="237.50" width="4.8" height="4.8" class="rs"/>
<rect x="358.70" y="237.50" width="4.8" height="4.8" class="rs"/>
<rect x="361.09" y="237.50" width="4.8" height="4.8" class="rs"/>
<rect x="363.47" y="237.50" width="4.8" height="4.8" class="rs"/>
<rect x="365.85" y="237.50" width="4.8" height="4.8" class="rs"/>
<path d="M75.08,258.40 L78.90,246.90 L82.23,239.35 L84.62,239.85" fill="none" stroke="#78c244" stroke-width="0.8" stroke-linejoin="round" stroke-linecap="round" />
<path d="M75.08,255.40 l2.9,5 h-5.8 z" class="gt"/>
<path d="M78.90,243.90 l2.9,5 h-5.8 z" class="gt"/>
<path d="M82.23,236.35 l2.9,5 h-5.8 z" class="gt"/>
<path d="M84.62,236.85 l2.9,5 h-5.8 z" class="gt"/>
<path d="M87.00,237.18 l2.9,5 h-5.8 z" class="gt"/>
<path d="M89.38,237.11 l2.9,5 h-5.8 z" class="gt"/>
<path d="M91.77,236.68 l2.9,5 h-5.8 z" class="gt"/>
<path d="M94.15,236.88 l2.9,5 h-5.8 z" class="gt"/>
<path d="M96.53,237.06 l2.9,5 h-5.8 z" class="gt"/>
<path d="M98.92,236.20 l2.9,5 h-5.8 z" class="gt"/>
<path d="M101.30,236.89 l2.9,5 h-5.8 z" class="gt"/>
<path d="M103.69,237.19 l2.9,5 h-5.8 z" class="gt"/>
<path d="M106.07,237.04 l2.9,5 h-5.8 z" class="gt"/>
<path d="M108.45,237.00 l2.9,5 h-5.8 z" class="gt"/>
<path d="M110.84,236.67 l2.9,5 h-5.8 z" class="gt"/>
<path d="M113.22,236.31 l2.9,5 h-5.8 z" class="gt"/>
<path d="M115.60,237.05 l2.9,5 h-5.8 z" class="gt"/>
<path d="M117.99,236.50 l2.9,5 h-5.8 z" class="gt"/>
<path d="M120.37,237.06 l2.9,5 h-5.8 z" class="gt"/>
<path d="M122.75,237.27 l2.9,5 h-5.8 z" class="gt"/>
<path d="M125.14,236.58 l2.9,5 h-5.8 z" class="gt"/>
<path d="M127.52,236.58 l2.9,5 h-5.8 z" class="gt"/>
<path d="M129.90,237.24 l2.9,5 h-5.8 z" class="gt"/>
<path d="M132.29,236.97 l2.9,5 h-5.8 z" class="gt"/>
<path d="M134.67,236.30 l2.9,5 h-5.8 z" class="gt"/>
<path d="M137.05,236.25 l2.9,5 h-5.8 z" class="gt"/>
<path d="M139.44,236.28 l2.9,5 h-5.8 z" class="gt"/>
<path d="M141.82,237.19 l2.9,5 h-5.8 z" class="gt"/>
<path d="M144.21,237.07 l2.9,5 h-5.8 z" class="gt"/>
<path d="M146.59,236.28 l2.9,5 h-5.8 z" class="gt"/>
<path d="M148.97,237.09 l2.9,5 h-5.8 z" class="gt"/>
<path d="M151.36,237.28 l2.9,5 h-5.8 z" class="gt"/>
<path d="M153.74,236.89 l2.9,5 h-5.8 z" class="gt"/>
<path d="M156.12,236.52 l2.9,5 h-5.8 z" class="gt"/>
<path d="M158.51,236.76 l2.9,5 h-5.8 z" class="gt"/>
<path d="M160.89,236.26 l2.9,5 h-5.8 z" class="gt"/>
<path d="M163.27,236.12 l2.9,5 h-5.8 z" class="gt"/>
<path d="M165.66,237.27 l2.9,5 h-5.8 z" class="gt"/>
<path d="M168.04,236.88 l2.9,5 h-5.8 z" class="gt"/>
<path d="M170.42,236.73 l2.9,5 h-5.8 z" class="gt"/>
<path d="M172.81,237.22 l2.9,5 h-5.8 z" class="gt"/>
<path d="M175.19,236.62 l2.9,5 h-5.8 z" class="gt"/>
<path d="M177.57,237.15 l2.9,5 h-5.8 z" class="gt"/>
<path d="M179.96,237.09 l2.9,5 h-5.8 z" class="gt"/>
<path d="M182.34,236.35 l2.9,5 h-5.8 z" class="gt"/>
<path d="M184.72,236.40 l2.9,5 h-5.8 z" class="gt"/>
<path d="M187.11,236.45 l2.9,5 h-5.8 z" class="gt"/>
<path d="M189.49,236.39 l2.9,5 h-5.8 z" class="gt"/>
<path d="M191.88,236.80 l2.9,5 h-5.8 z" class="gt"/>
<path d="M194.26,236.41 l2.9,5 h-5.8 z" class="gt"/>
<path d="M196.64,236.60 l2.9,5 h-5.8 z" class="gt"/>
<path d="M199.03,236.26 l2.9,5 h-5.8 z" class="gt"/>
<path d="M201.41,237.19 l2.9,5 h-5.8 z" class="gt"/>
<path d="M203.79,236.52 l2.9,5 h-5.8 z" class="gt"/>
<path d="M206.18,236.65 l2.9,5 h-5.8 z" class="gt"/>
<path d="M208.56,236.80 l2.9,5 h-5.8 z" class="gt"/>
<path d="M210.94,237.19 l2.9,5 h-5.8 z" class="gt"/>
<path d="M213.33,236.60 l2.9,5 h-5.8 z" class="gt"/>
<path d="M215.71,237.20 l2.9,5 h-5.8 z" class="gt"/>
<path d="M218.09,236.70 l2.9,5 h-5.8 z" class="gt"/>
<path d="M220.48,236.74 l2.9,5 h-5.8 z" class="gt"/>
<path d="M222.86,236.73 l2.9,5 h-5.8 z" class="gt"/>
<path d="M225.24,236.12 l2.9,5 h-5.8 z" class="gt"/>
<path d="M227.63,236.63 l2.9,5 h-5.8 z" class="gt"/>
<path d="M230.01,236.32 l2.9,5 h-5.8 z" class="gt"/>
<path d="M232.39,236.10 l2.9,5 h-5.8 z" class="gt"/>
<path d="M234.78,237.06 l2.9,5 h-5.8 z" class="gt"/>
<path d="M237.16,236.31 l2.9,5 h-5.8 z" class="gt"/>
<path d="M239.55,236.67 l2.9,5 h-5.8 z" class="gt"/>
<path d="M241.93,236.97 l2.9,5 h-5.8 z" class="gt"/>
<path d="M244.31,236.77 l2.9,5 h-5.8 z" class="gt"/>
<path d="M246.70,236.49 l2.9,5 h-5.8 z" class="gt"/>
<path d="M249.08,236.72 l2.9,5 h-5.8 z" class="gt"/>
<path d="M251.46,236.77 l2.9,5 h-5.8 z" class="gt"/>
<path d="M253.85,237.04 l2.9,5 h-5.8 z" class="gt"/>
<path d="M256.23,236.23 l2.9,5 h-5.8 z" class="gt"/>
<path d="M258.61,236.77 l2.9,5 h-5.8 z" class="gt"/>
<path d="M261.00,236.40 l2.9,5 h-5.8 z" class="gt"/>
<path d="M263.38,236.43 l2.9,5 h-5.8 z" class="gt"/>
<path d="M265.76,237.03 l2.9,5 h-5.8 z" class="gt"/>
<path d="M268.15,236.71 l2.9,5 h-5.8 z" class="gt"/>
<path d="M270.53,236.77 l2.9,5 h-5.8 z" class="gt"/>
<path d="M272.91,237.01 l2.9,5 h-5.8 z" class="gt"/>
<path d="M275.30,237.19 l2.9,5 h-5.8 z" class="gt"/>
<path d="M277.68,236.63 l2.9,5 h-5.8 z" class="gt"/>
<path d="M280.06,236.84 l2.9,5 h-5.8 z" class="gt"/>
<path d="M282.45,236.71 l2.9,5 h-5.8 z" class="gt"/>
<path d="M284.83,236.71 l2.9,5 h-5.8 z" class="gt"/>
<path d="M287.22,236.93 l2.9,5 h-5.8 z" class="gt"/>
<path d="M289.60,236.64 l2.9,5 h-5.8 z" class="gt"/>
<path d="M291.98,236.74 l2.9,5 h-5.8 z" class="gt"/>
<path d="M294.37,236.67 l2.9,5 h-5.8 z" class="gt"/>
<path d="M296.75,237.23 l2.9,5 h-5.8 z" class="gt"/>
<path d="M299.13,236.94 l2.9,5 h-5.8 z" class="gt"/>
<path d="M301.52,237.15 l2.9,5 h-5.8 z" class="gt"/>
<path d="M303.90,237.23 l2.9,5 h-5.8 z" class="gt"/>
<path d="M306.28,236.41 l2.9,5 h-5.8 z" class="gt"/>
<path d="M308.67,236.77 l2.9,5 h-5.8 z" class="gt"/>
<path d="M311.05,237.23 l2.9,5 h-5.8 z" class="gt"/>
<path d="M313.43,237.11 l2.9,5 h-5.8 z" class="gt"/>
<path d="M315.82,236.26 l2.9,5 h-5.8 z" class="gt"/>
<path d="M318.20,236.25 l2.9,5 h-5.8 z" class="gt"/>
<path d="M320.58,236.63 l2.9,5 h-5.8 z" class="gt"/>
<path d="M322.97,236.19 l2.9,5 h-5.8 z" class="gt"/>
<path d="M325.35,236.39 l2.9,5 h-5.8 z" class="gt"/>
<path d="M327.73,236.19 l2.9,5 h-5.8 z" class="gt"/>
<path d="M330.12,236.90 l2.9,5 h-5.8 z" class="gt"/>
<path d="M332.50,237.04 l2.9,5 h-5.8 z" class="gt"/>
<path d="M334.88,237.18 l2.9,5 h-5.8 z" class="gt"/>
<path d="M337.27,236.29 l2.9,5 h-5.8 z" class="gt"/>
<path d="M339.65,236.96 l2.9,5 h-5.8 z" class="gt"/>
<path d="M342.04,236.89 l2.9,5 h-5.8 z" class="gt"/>
<path d="M344.42,236.27 l2.9,5 h-5.8 z" class="gt"/>
<path d="M346.80,237.16 l2.9,5 h-5.8 z" class="gt"/>
<path d="M349.19,237.26 l2.9,5 h-5.8 z" class="gt"/>
<path d="M351.57,236.36 l2.9,5 h-5.8 z" class="gt"/>
<path d="M353.95,237.24 l2.9,5 h-5.8 z" class="gt"/>
<path d="M356.34,236.58 l2.9,5 h-5.8 z" class="gt"/>
<path d="M358.72,236.68 l2.9,5 h-5.8 z" class="gt"/>
<path d="M361.10,237.29 l2.9,5 h-5.8 z" class="gt"/>
<path d="M363.49,237.10 l2.9,5 h-5.8 z" class="gt"/>
<path d="M365.87,236.29 l2.9,5 h-5.8 z" class="gt"/>
<path d="M368.25,236.62 l2.9,5 h-5.8 z" class="gt"/>
<path d="M370.64,236.72 l2.9,5 h-5.8 z" class="gt"/>
<path d="M373.02,236.51 l2.9,5 h-5.8 z" class="gt"/>
<path d="M375.40,236.33 l2.9,5 h-5.8 z" class="gt"/>
<path d="M377.79,236.48 l2.9,5 h-5.8 z" class="gt"/>
<path d="M380.17,236.97 l2.9,5 h-5.8 z" class="gt"/>
<path d="M382.56,236.12 l2.9,5 h-5.8 z" class="gt"/>
<path d="M384.94,236.76 l2.9,5 h-5.8 z" class="gt"/>
<path d="M387.32,236.63 l2.9,5 h-5.8 z" class="gt"/>
<path d="M389.71,236.12 l2.9,5 h-5.8 z" class="gt"/>
<path d="M392.09,236.50 l2.9,5 h-5.8 z" class="gt"/>
<path d="M394.47,236.85 l2.9,5 h-5.8 z" class="gt"/>
<path d="M396.86,236.71 l2.9,5 h-5.8 z" class="gt"/>
<path d="M399.24,236.18 l2.9,5 h-5.8 z" class="gt"/>
<path d="M401.62,237.28 l2.9,5 h-5.8 z" class="gt"/>
<path d="M404.01,237.05 l2.9,5 h-5.8 z" class="gt"/>
<path d="M406.39,237.27 l2.9,5 h-5.8 z" class="gt"/>
<path d="M408.77,236.23 l2.9,5 h-5.8 z" class="gt"/>
<path d="M411.16,236.42 l2.9,5 h-5.8 z" class="gt"/>
<path d="M413.54,236.15 l2.9,5 h-5.8 z" class="gt"/>
<path d="M415.92,237.03 l2.9,5 h-5.8 z" class="gt"/>
<path d="M418.31,236.42 l2.9,5 h-5.8 z" class="gt"/>
<path d="M420.69,236.26 l2.9,5 h-5.8 z" class="gt"/>
<path d="M423.07,236.61 l2.9,5 h-5.8 z" class="gt"/>
<path d="M425.46,237.19 l2.9,5 h-5.8 z" class="gt"/>
<path d="M427.84,237.08 l2.9,5 h-5.8 z" class="gt"/>
<path d="M430.23,236.41 l2.9,5 h-5.8 z" class="gt"/>
<path d="M75.08,255.00 L77.47,242.50 L79.85,240.20 L82.23,240.20" fill="none" stroke="#fb9a0c" stroke-width="0.8" stroke-linejoin="round" stroke-linecap="round" />
<path d="M72.18,252.30 h5.8 l-2.9,5 z" class="ot"/>
<path d="M74.57,239.80 h5.8 l-2.9,5 z" class="ot"/>
<path d="M76.95,237.50 h5.8 l-2.9,5 z" class="ot"/>
<path d="M79.33,237.50 h5.8 l-2.9,5 z" class="ot"/>
<path d="M81.72,237.50 h5.8 l-2.9,5 z" class="ot"/>
<path d="M84.10,237.50 h5.8 l-2.9,5 z" class="ot"/>
<path d="M86.48,237.50 h5.8 l-2.9,5 z" class="ot"/>
<path d="M88.87,237.50 h5.8 l-2.9,5 z" class="ot"/>
<path d="M91.25,237.50 h5.8 l-2.9,5 z" class="ot"/>
<path d="M93.63,237.50 h5.8 l-2.9,5 z" class="ot"/>
<path d="M96.02,237.50 h5.8 l-2.9,5 z" class="ot"/>
<path d="M98.40,237.50 h5.8 l-2.9,5 z" class="ot"/>
<path d="M100.79,237.50 h5.8 l-2.9,5 z" class="ot"/>
<path d="M103.17,237.50 h5.8 l-2.9,5 z" class="ot"/>
<path d="M105.55,237.50 h5.8 l-2.9,5 z" class="ot"/>
<path d="M107.94,237.50 h5.8 l-2.9,5 z" class="ot"/>
<path d="M110.32,237.50 h5.8 l-2.9,5 z" class="ot"/>
<path d="M112.70,237.50 h5.8 l-2.9,5 z" class="ot"/>
<path d="M115.09,237.50 h5.8 l-2.9,5 z" class="ot"/>
<path d="M117.47,237.50 h5.8 l-2.9,5 z" class="ot"/>
<path d="M119.85,237.50 h5.8 l-2.9,5 z" class="ot"/>
<path d="M122.24,237.50 h5.8 l-2.9,5 z" class="ot"/>
<path d="M124.62,237.50 h5.8 l-2.9,5 z" class="ot"/>
<path d="M127.00,237.50 h5.8 l-2.9,5 z" class="ot"/>
<path d="M129.39,237.50 h5.8 l-2.9,5 z" class="ot"/>
<path d="M131.77,237.50 h5.8 l-2.9,5 z" class="ot"/>
<path d="M134.15,237.50 h5.8 l-2.9,5 z" class="ot"/>
<path d="M136.54,237.50 h5.8 l-2.9,5 z" class="ot"/>
<path d="M138.92,237.50 h5.8 l-2.9,5 z" class="ot"/>
<path d="M141.31,237.50 h5.8 l-2.9,5 z" class="ot"/>
<path d="M143.69,237.50 h5.8 l-2.9,5 z" class="ot"/>
<path d="M146.07,237.50 h5.8 l-2.9,5 z" class="ot"/>
<path d="M148.46,237.50 h5.8 l-2.9,5 z" class="ot"/>
<path d="M150.84,237.50 h5.8 l-2.9,5 z" class="ot"/>
<path d="M153.22,237.50 h5.8 l-2.9,5 z" class="ot"/>
<path d="M155.61,237.50 h5.8 l-2.9,5 z" class="ot"/>
<path d="M157.99,237.50 h5.8 l-2.9,5 z" class="ot"/>
<path d="M160.37,237.50 h5.8 l-2.9,5 z" class="ot"/>
<path d="M162.76,237.50 h5.8 l-2.9,5 z" class="ot"/>
<path d="M165.14,237.50 h5.8 l-2.9,5 z" class="ot"/>
<path d="M167.52,237.50 h5.8 l-2.9,5 z" class="ot"/>
<path d="M169.91,237.50 h5.8 l-2.9,5 z" class="ot"/>
<path d="M172.29,237.50 h5.8 l-2.9,5 z" class="ot"/>
<path d="M174.67,237.50 h5.8 l-2.9,5 z" class="ot"/>
<path d="M177.06,237.50 h5.8 l-2.9,5 z" class="ot"/>
<path d="M179.44,237.50 h5.8 l-2.9,5 z" class="ot"/>
<path d="M181.82,237.50 h5.8 l-2.9,5 z" class="ot"/>
<path d="M184.21,237.50 h5.8 l-2.9,5 z" class="ot"/>
<path d="M186.59,237.50 h5.8 l-2.9,5 z" class="ot"/>
<path d="M188.97,237.50 h5.8 l-2.9,5 z" class="ot"/>
<path d="M191.36,237.50 h5.8 l-2.9,5 z" class="ot"/>
<path d="M193.74,237.50 h5.8 l-2.9,5 z" class="ot"/>
<path d="M196.13,237.50 h5.8 l-2.9,5 z" class="ot"/>
<path d="M198.51,237.50 h5.8 l-2.9,5 z" class="ot"/>
<path d="M200.89,237.50 h5.8 l-2.9,5 z" class="ot"/>
<path d="M203.28,237.50 h5.8 l-2.9,5 z" class="ot"/>
<path d="M205.66,237.50 h5.8 l-2.9,5 z" class="ot"/>
<path d="M208.04,237.50 h5.8 l-2.9,5 z" class="ot"/>
<path d="M210.43,237.50 h5.8 l-2.9,5 z" class="ot"/>
<path d="M212.81,237.50 h5.8 l-2.9,5 z" class="ot"/>
<path d="M215.19,237.50 h5.8 l-2.9,5 z" class="ot"/>
<path d="M217.58,237.50 h5.8 l-2.9,5 z" class="ot"/>
<path d="M219.96,237.50 h5.8 l-2.9,5 z" class="ot"/>
<path d="M222.34,237.50 h5.8 l-2.9,5 z" class="ot"/>
<path d="M224.73,237.50 h5.8 l-2.9,5 z" class="ot"/>
<path d="M227.11,237.50 h5.8 l-2.9,5 z" class="ot"/>
<path d="M229.49,237.50 h5.8 l-2.9,5 z" class="ot"/>
<path d="M231.88,237.50 h5.8 l-2.9,5 z" class="ot"/>
<path d="M234.26,237.50 h5.8 l-2.9,5 z" class="ot"/>
<path d="M236.65,237.50 h5.8 l-2.9,5 z" class="ot"/>
<path d="M239.03,237.50 h5.8 l-2.9,5 z" class="ot"/>
<path d="M241.41,237.50 h5.8 l-2.9,5 z" class="ot"/>
<path d="M243.80,237.50 h5.8 l-2.9,5 z" class="ot"/>
<path d="M246.18,237.50 h5.8 l-2.9,5 z" class="ot"/>
<path d="M248.56,237.50 h5.8 l-2.9,5 z" class="ot"/>
<path d="M250.95,237.50 h5.8 l-2.9,5 z" class="ot"/>
<path d="M253.33,237.50 h5.8 l-2.9,5 z" class="ot"/>
<path d="M255.71,237.50 h5.8 l-2.9,5 z" class="ot"/>
<path d="M258.10,237.50 h5.8 l-2.9,5 z" class="ot"/>
<path d="M260.48,237.50 h5.8 l-2.9,5 z" class="ot"/>
<path d="M262.86,237.50 h5.8 l-2.9,5 z" class="ot"/>
<path d="M265.25,237.50 h5.8 l-2.9,5 z" class="ot"/>
<path d="M267.63,237.50 h5.8 l-2.9,5 z" class="ot"/>
<path d="M270.01,237.50 h5.8 l-2.9,5 z" class="ot"/>
<path d="M272.40,237.50 h5.8 l-2.9,5 z" class="ot"/>
<path d="M274.78,237.50 h5.8 l-2.9,5 z" class="ot"/>
<path d="M277.16,237.50 h5.8 l-2.9,5 z" class="ot"/>
<path d="M279.55,237.50 h5.8 l-2.9,5 z" class="ot"/>
<path d="M281.93,237.50 h5.8 l-2.9,5 z" class="ot"/>
<path d="M284.32,237.50 h5.8 l-2.9,5 z" class="ot"/>
<path d="M286.70,237.50 h5.8 l-2.9,5 z" class="ot"/>
<path d="M289.08,237.50 h5.8 l-2.9,5 z" class="ot"/>
<path d="M291.47,237.50 h5.8 l-2.9,5 z" class="ot"/>
<path d="M293.85,237.50 h5.8 l-2.9,5 z" class="ot"/>
<path d="M296.23,237.50 h5.8 l-2.9,5 z" class="ot"/>
<path d="M298.62,237.50 h5.8 l-2.9,5 z" class="ot"/>
<path d="M301.00,237.50 h5.8 l-2.9,5 z" class="ot"/>
<path d="M303.38,237.50 h5.8 l-2.9,5 z" class="ot"/>
<path d="M305.77,237.50 h5.8 l-2.9,5 z" class="ot"/>
<path d="M308.15,237.50 h5.8 l-2.9,5 z" class="ot"/>
<path d="M310.53,237.50 h5.8 l-2.9,5 z" class="ot"/>
<path d="M312.92,237.50 h5.8 l-2.9,5 z" class="ot"/>
<path d="M315.30,237.50 h5.8 l-2.9,5 z" class="ot"/>
<path d="M317.68,237.50 h5.8 l-2.9,5 z" class="ot"/>
<path d="M320.07,237.50 h5.8 l-2.9,5 z" class="ot"/>
<path d="M322.45,237.50 h5.8 l-2.9,5 z" class="ot"/>
<path d="M324.83,237.50 h5.8 l-2.9,5 z" class="ot"/>
<path d="M327.22,237.50 h5.8 l-2.9,5 z" class="ot"/>
<path d="M329.60,237.50 h5.8 l-2.9,5 z" class="ot"/>
<path d="M331.99,237.50 h5.8 l-2.9,5 z" class="ot"/>
<path d="M334.37,237.50 h5.8 l-2.9,5 z" class="ot"/>
<path d="M336.75,237.50 h5.8 l-2.9,5 z" class="ot"/>
<path d="M339.14,237.50 h5.8 l-2.9,5 z" class="ot"/>
<path d="M341.52,237.50 h5.8 l-2.9,5 z" class="ot"/>
<path d="M343.90,237.50 h5.8 l-2.9,5 z" class="ot"/>
<path d="M346.29,237.50 h5.8 l-2.9,5 z" class="ot"/>
<path d="M348.67,237.50 h5.8 l-2.9,5 z" class="ot"/>
<path d="M351.05,237.50 h5.8 l-2.9,5 z" class="ot"/>
<path d="M353.44,237.50 h5.8 l-2.9,5 z" class="ot"/>
<path d="M355.82,237.50 h5.8 l-2.9,5 z" class="ot"/>
<path d="M358.20,237.50 h5.8 l-2.9,5 z" class="ot"/>
<path d="M360.59,237.50 h5.8 l-2.9,5 z" class="ot"/>
<path d="M362.97,237.50 h5.8 l-2.9,5 z" class="ot"/>
<path d="M365.35,237.50 h5.8 l-2.9,5 z" class="ot"/>
<path d="M367.74,237.50 h5.8 l-2.9,5 z" class="ot"/>
<path d="M370.12,237.50 h5.8 l-2.9,5 z" class="ot"/>
<path d="M372.50,237.50 h5.8 l-2.9,5 z" class="ot"/>
<path d="M374.89,237.50 h5.8 l-2.9,5 z" class="ot"/>
<path d="M377.27,237.50 h5.8 l-2.9,5 z" class="ot"/>
<path d="M379.66,237.50 h5.8 l-2.9,5 z" class="ot"/>
<path d="M382.04,237.50 h5.8 l-2.9,5 z" class="ot"/>
<path d="M384.42,237.50 h5.8 l-2.9,5 z" class="ot"/>
<path d="M386.81,237.50 h5.8 l-2.9,5 z" class="ot"/>
<path d="M389.19,237.50 h5.8 l-2.9,5 z" class="ot"/>
<path d="M391.57,237.50 h5.8 l-2.9,5 z" class="ot"/>
<path d="M393.96,237.50 h5.8 l-2.9,5 z" class="ot"/>
<path d="M396.34,237.50 h5.8 l-2.9,5 z" class="ot"/>
<path d="M398.72,237.50 h5.8 l-2.9,5 z" class="ot"/>
<path d="M401.11,237.50 h5.8 l-2.9,5 z" class="ot"/>
<path d="M403.49,237.50 h5.8 l-2.9,5 z" class="ot"/>
<path d="M405.87,237.50 h5.8 l-2.9,5 z" class="ot"/>
<path d="M408.26,237.50 h5.8 l-2.9,5 z" class="ot"/>
<path d="M410.64,237.50 h5.8 l-2.9,5 z" class="ot"/>
<path d="M413.02,237.50 h5.8 l-2.9,5 z" class="ot"/>
<path d="M415.41,237.50 h5.8 l-2.9,5 z" class="ot"/>
<path d="M417.79,237.50 h5.8 l-2.9,5 z" class="ot"/>
<path d="M420.17,237.50 h5.8 l-2.9,5 z" class="ot"/>
<path d="M422.56,237.50 h5.8 l-2.9,5 z" class="ot"/>
<path d="M424.94,237.50 h5.8 l-2.9,5 z" class="ot"/>
<path d="M427.33,237.50 h5.8 l-2.9,5 z" class="ot"/>
<path d="M429.71,237.50 h5.8 l-2.9,5 z" class="ot"/>
<path d="M432.09,237.50 h5.8 l-2.9,5 z" class="ot"/>
<path d="M434.48,237.50 h5.8 l-2.9,5 z" class="ot"/>
<path d="M436.86,237.50 h5.8 l-2.9,5 z" class="ot"/>
<path d="M439.24,237.50 h5.8 l-2.9,5 z" class="ot"/>
<path d="M441.63,237.50 h5.8 l-2.9,5 z" class="ot"/>
<path d="M444.01,237.50 h5.8 l-2.9,5 z" class="ot"/>
<path d="M446.39,237.50 h5.8 l-2.9,5 z" class="ot"/>
<path d="M448.78,237.50 h5.8 l-2.9,5 z" class="ot"/>
<path d="M451.16,237.50 h5.8 l-2.9,5 z" class="ot"/>
<path d="M453.54,237.50 h5.8 l-2.9,5 z" class="ot"/>
<path d="M455.93,237.50 h5.8 l-2.9,5 z" class="ot"/>
<path d="M458.31,237.50 h5.8 l-2.9,5 z" class="ot"/>
<path d="M460.69,237.50 h5.8 l-2.9,5 z" class="ot"/>
<path d="M463.08,237.50 h5.8 l-2.9,5 z" class="ot"/>
<path d="M465.46,237.50 h5.8 l-2.9,5 z" class="ot"/>
<path d="M467.84,237.50 h5.8 l-2.9,5 z" class="ot"/>
<path d="M470.23,237.50 h5.8 l-2.9,5 z" class="ot"/>
<path d="M472.61,237.50 h5.8 l-2.9,5 z" class="ot"/>
<path d="M475.00,237.50 h5.8 l-2.9,5 z" class="ot"/>
<path d="M477.38,237.50 h5.8 l-2.9,5 z" class="ot"/>
<path d="M479.76,237.50 h5.8 l-2.9,5 z" class="ot"/>
<path d="M482.15,237.50 h5.8 l-2.9,5 z" class="ot"/>
<path d="M484.53,237.50 h5.8 l-2.9,5 z" class="ot"/>
<path d="M486.91,237.50 h5.8 l-2.9,5 z" class="ot"/>
<path d="M489.30,237.50 h5.8 l-2.9,5 z" class="ot"/>
<path d="M491.68,237.50 h5.8 l-2.9,5 z" class="ot"/>
<path d="M494.06,237.50 h5.8 l-2.9,5 z" class="ot"/>
<path d="M496.45,237.50 h5.8 l-2.9,5 z" class="ot"/>
<path d="M498.83,237.50 h5.8 l-2.9,5 z" class="ot"/>
<path d="M501.21,237.50 h5.8 l-2.9,5 z" class="ot"/>
<path d="M503.60,237.50 h5.8 l-2.9,5 z" class="ot"/>
<path d="M505.98,237.50 h5.8 l-2.9,5 z" class="ot"/>
<path d="M508.36,237.50 h5.8 l-2.9,5 z" class="ot"/>
<path d="M510.75,237.50 h5.8 l-2.9,5 z" class="ot"/>
<path d="M513.13,237.50 h5.8 l-2.9,5 z" class="ot"/>
<path d="M515.51,237.50 h5.8 l-2.9,5 z" class="ot"/>
<path d="M517.90,237.50 h5.8 l-2.9,5 z" class="ot"/>
<path d="M520.28,237.50 h5.8 l-2.9,5 z" class="ot"/>
<path d="M522.67,237.50 h5.8 l-2.9,5 z" class="ot"/>
<path d="M525.05,237.50 h5.8 l-2.9,5 z" class="ot"/>
<path d="M527.43,237.50 h5.8 l-2.9,5 z" class="ot"/>
<path d="M529.82,237.50 h5.8 l-2.9,5 z" class="ot"/>
<path d="M532.20,237.50 h5.8 l-2.9,5 z" class="ot"/>
<path d="M534.58,237.50 h5.8 l-2.9,5 z" class="ot"/>
<path d="M536.97,237.50 h5.8 l-2.9,5 z" class="ot"/>
<path d="M539.35,237.50 h5.8 l-2.9,5 z" class="ot"/>
<path d="M541.73,237.50 h5.8 l-2.9,5 z" class="ot"/>
<path d="M544.12,237.50 h5.8 l-2.9,5 z" class="ot"/>
<path d="M546.50,237.50 h5.8 l-2.9,5 z" class="ot"/>
<path d="M79.85,342.68 L82.23,343.29 L84.62,343.90 L87.00,344.50 L89.38,345.11 L91.77,345.71 L94.15,346.17 L96.53,346.62 L98.92,347.08 L101.30,347.53 L103.69,347.98 L106.07,348.44 L108.45,348.89 L110.84,349.34 L113.22,349.79 L115.60,350.22 L117.99,350.66 L120.37,351.09 L122.75,351.53 L125.14,351.96 L127.52,352.39 L129.90,352.83 L132.29,353.26 L134.67,353.70 L137.05,354.13 L139.44,354.56 L141.82,355.00 L144.21,355.43 L146.59,355.87 L148.97,356.30 L151.36,356.73 L153.74,357.03 L156.12,357.32 L158.51,357.61 L160.89,357.90 L163.27,358.19 L165.66,358.48 L168.04,358.78 L170.42,359.07 L172.81,359.36 L175.19,359.65 L177.57,359.94 L179.96,360.23 L182.34,360.53 L184.72,360.82 L187.11,361.11 L189.49,361.40 L191.88,361.69 L194.26,361.91 L196.64,362.13 L199.03,362.34 L201.41,362.56 L203.79,362.77 L206.18,362.99 L208.56,363.20 L210.94,363.42 L213.33,363.64 L215.71,363.85 L218.09,364.07 L220.48,364.28 L222.86,364.56 L225.24,369.41 L227.63,369.53 L230.01,369.66 L232.39,369.79 L234.78,369.92 L237.16,370.04 L239.55,370.17 L241.93,370.30 L244.31,370.43 L246.70,370.55 L249.08,370.68 L251.46,370.81 L253.85,370.94 L256.23,371.06 L258.61,371.19 L261.00,371.32 L263.38,371.45 L265.76,371.56 L268.15,371.67 L270.53,371.78 L272.91,371.89 L275.30,372.00 L277.68,372.11 L280.06,372.22 L282.45,372.32 L284.83,372.42 L287.22,372.52 L289.60,372.62 L291.98,372.73 L294.37,372.83 L296.75,372.93 L299.13,373.03 L301.52,373.13 L303.90,373.23 L306.28,373.34 L308.67,373.44 L311.05,373.54 L313.43,373.63 L315.82,373.73 L318.20,373.82 L320.58,373.91 L322.97,374.00 L325.35,374.10 L327.73,374.19 L330.12,374.28 L332.50,374.38 L334.88,374.47 L337.27,374.56 L339.65,374.65 L342.04,374.75 L344.42,374.84 L346.80,374.93 L349.19,375.02 L351.57,375.12 L353.95,375.21 L356.34,375.30" fill="none" stroke="#333" stroke-width="6.300000000000001" stroke-linejoin="round" stroke-linecap="round" opacity="0.55"/>
<path d="M79.85,342.68 L82.23,343.29 L84.62,343.90 L87.00,344.50 L89.38,345.11 L91.77,345.71 L94.15,346.17 L96.53,346.62 L98.92,347.08 L101.30,347.53 L103.69,347.98 L106.07,348.44 L108.45,348.89 L110.84,349.34 L113.22,349.79 L115.60,350.22 L117.99,350.66 L120.37,351.09 L122.75,351.53 L125.14,351.96 L127.52,352.39 L129.90,352.83 L132.29,353.26 L134.67,353.70 L137.05,354.13 L139.44,354.56 L141.82,355.00 L144.21,355.43 L146.59,355.87 L148.97,356.30 L151.36,356.73 L153.74,357.03 L156.12,357.32 L158.51,357.61 L160.89,357.90 L163.27,358.19 L165.66,358.48 L168.04,358.78 L170.42,359.07 L172.81,359.36 L175.19,359.65 L177.57,359.94 L179.96,360.23 L182.34,360.53 L184.72,360.82 L187.11,361.11 L189.49,361.40 L191.88,361.69 L194.26,361.91 L196.64,362.13 L199.03,362.34 L201.41,362.56 L203.79,362.77 L206.18,362.99 L208.56,363.20 L210.94,363.42 L213.33,363.64 L215.71,363.85 L218.09,364.07 L220.48,364.28 L222.86,364.56 L225.24,369.41 L227.63,369.53 L230.01,369.66 L232.39,369.79 L234.78,369.92 L237.16,370.04 L239.55,370.17 L241.93,370.30 L244.31,370.43 L246.70,370.55 L249.08,370.68 L251.46,370.81 L253.85,370.94 L256.23,371.06 L258.61,371.19 L261.00,371.32 L263.38,371.45 L265.76,371.56 L268.15,371.67 L270.53,371.78 L272.91,371.89 L275.30,372.00 L277.68,372.11 L280.06,372.22 L282.45,372.32 L284.83,372.42 L287.22,372.52 L289.60,372.62 L291.98,372.73 L294.37,372.83 L296.75,372.93 L299.13,373.03 L301.52,373.13 L303.90,373.23 L306.28,373.34 L308.67,373.44 L311.05,373.54 L313.43,373.63 L315.82,373.73 L318.20,373.82 L320.58,373.91 L322.97,374.00 L325.35,374.10 L327.73,374.19 L330.12,374.28 L332.50,374.38 L334.88,374.47 L337.27,374.56 L339.65,374.65 L342.04,374.75 L344.42,374.84 L346.80,374.93 L349.19,375.02 L351.57,375.12 L353.95,375.21 L356.34,375.30" fill="none" stroke="#555555" stroke-width="5.4" stroke-linejoin="round" stroke-linecap="round" />
<ellipse cx="79.85" cy="342.28" rx="0.7" ry="1.0" fill="#fff"/>
<ellipse cx="82.23" cy="342.89" rx="0.7" ry="1.0" fill="#fff"/>
<ellipse cx="84.62" cy="343.50" rx="0.7" ry="1.0" fill="#fff"/>
<ellipse cx="87.00" cy="344.10" rx="0.7" ry="1.0" fill="#fff"/>
<ellipse cx="89.38" cy="344.71" rx="0.7" ry="1.0" fill="#fff"/>
<ellipse cx="91.77" cy="345.31" rx="0.7" ry="1.0" fill="#fff"/>
<ellipse cx="94.15" cy="345.77" rx="0.7" ry="1.0" fill="#fff"/>
<ellipse cx="96.53" cy="346.22" rx="0.7" ry="1.0" fill="#fff"/>
<ellipse cx="98.92" cy="346.68" rx="0.7" ry="1.0" fill="#fff"/>
<ellipse cx="101.30" cy="347.13" rx="0.7" ry="1.0" fill="#fff"/>
<ellipse cx="103.69" cy="347.58" rx="0.7" ry="1.0" fill="#fff"/>
<ellipse cx="106.07" cy="348.04" rx="0.7" ry="1.0" fill="#fff"/>
<ellipse cx="108.45" cy="348.49" rx="0.7" ry="1.0" fill="#fff"/>
<ellipse cx="110.84" cy="348.94" rx="0.7" ry="1.0" fill="#fff"/>
<ellipse cx="113.22" cy="349.39" rx="0.7" ry="1.0" fill="#fff"/>
<ellipse cx="115.60" cy="349.82" rx="0.7" ry="1.0" fill="#fff"/>
<ellipse cx="117.99" cy="350.26" rx="0.7" ry="1.0" fill="#fff"/>
<ellipse cx="120.37" cy="350.69" rx="0.7" ry="1.0" fill="#fff"/>
<ellipse cx="122.75" cy="351.13" rx="0.7" ry="1.0" fill="#fff"/>
<ellipse cx="125.14" cy="351.56" rx="0.7" ry="1.0" fill="#fff"/>
<ellipse cx="127.52" cy="351.99" rx="0.7" ry="1.0" fill="#fff"/>
<ellipse cx="129.90" cy="352.43" rx="0.7" ry="1.0" fill="#fff"/>
<ellipse cx="132.29" cy="352.86" rx="0.7" ry="1.0" fill="#fff"/>
<ellipse cx="134.67" cy="353.30" rx="0.7" ry="1.0" fill="#fff"/>
<ellipse cx="137.05" cy="353.73" rx="0.7" ry="1.0" fill="#fff"/>
<ellipse cx="139.44" cy="354.16" rx="0.7" ry="1.0" fill="#fff"/>
<ellipse cx="141.82" cy="354.60" rx="0.7" ry="1.0" fill="#fff"/>
<ellipse cx="144.21" cy="355.03" rx="0.7" ry="1.0" fill="#fff"/>
<ellipse cx="146.59" cy="355.47" rx="0.7" ry="1.0" fill="#fff"/>
<ellipse cx="148.97" cy="355.90" rx="0.7" ry="1.0" fill="#fff"/>
<ellipse cx="151.36" cy="356.33" rx="0.7" ry="1.0" fill="#fff"/>
<ellipse cx="153.74" cy="356.63" rx="0.7" ry="1.0" fill="#fff"/>
<ellipse cx="156.12" cy="356.92" rx="0.7" ry="1.0" fill="#fff"/>
<ellipse cx="158.51" cy="357.21" rx="0.7" ry="1.0" fill="#fff"/>
<ellipse cx="160.89" cy="357.50" rx="0.7" ry="1.0" fill="#fff"/>
<ellipse cx="163.27" cy="357.79" rx="0.7" ry="1.0" fill="#fff"/>
<ellipse cx="165.66" cy="358.08" rx="0.7" ry="1.0" fill="#fff"/>
<ellipse cx="168.04" cy="358.38" rx="0.7" ry="1.0" fill="#fff"/>
<ellipse cx="170.42" cy="358.67" rx="0.7" ry="1.0" fill="#fff"/>
<ellipse cx="172.81" cy="358.96" rx="0.7" ry="1.0" fill="#fff"/>
<ellipse cx="175.19" cy="359.25" rx="0.7" ry="1.0" fill="#fff"/>
<ellipse cx="177.57" cy="359.54" rx="0.7" ry="1.0" fill="#fff"/>
<ellipse cx="179.96" cy="359.83" rx="0.7" ry="1.0" fill="#fff"/>
<ellipse cx="182.34" cy="360.13" rx="0.7" ry="1.0" fill="#fff"/>
<ellipse cx="184.72" cy="360.42" rx="0.7" ry="1.0" fill="#fff"/>
<ellipse cx="187.11" cy="360.71" rx="0.7" ry="1.0" fill="#fff"/>
<ellipse cx="189.49" cy="361.00" rx="0.7" ry="1.0" fill="#fff"/>
<ellipse cx="191.88" cy="361.29" rx="0.7" ry="1.0" fill="#fff"/>
<ellipse cx="194.26" cy="361.51" rx="0.7" ry="1.0" fill="#fff"/>
<ellipse cx="196.64" cy="361.73" rx="0.7" ry="1.0" fill="#fff"/>
<ellipse cx="199.03" cy="361.94" rx="0.7" ry="1.0" fill="#fff"/>
<ellipse cx="201.41" cy="362.16" rx="0.7" ry="1.0" fill="#fff"/>
<ellipse cx="203.79" cy="362.37" rx="0.7" ry="1.0" fill="#fff"/>
<ellipse cx="206.18" cy="362.59" rx="0.7" ry="1.0" fill="#fff"/>
<ellipse cx="208.56" cy="362.80" rx="0.7" ry="1.0" fill="#fff"/>
<ellipse cx="210.94" cy="363.02" rx="0.7" ry="1.0" fill="#fff"/>
<ellipse cx="213.33" cy="363.24" rx="0.7" ry="1.0" fill="#fff"/>
<ellipse cx="215.71" cy="363.45" rx="0.7" ry="1.0" fill="#fff"/>
<ellipse cx="218.09" cy="363.67" rx="0.7" ry="1.0" fill="#fff"/>
<ellipse cx="220.48" cy="363.88" rx="0.7" ry="1.0" fill="#fff"/>
<ellipse cx="222.86" cy="364.16" rx="0.7" ry="1.0" fill="#fff"/>
<ellipse cx="225.24" cy="369.01" rx="0.7" ry="1.0" fill="#fff"/>
<ellipse cx="227.63" cy="369.13" rx="0.7" ry="1.0" fill="#fff"/>
<ellipse cx="230.01" cy="369.26" rx="0.7" ry="1.0" fill="#fff"/>
<ellipse cx="232.39" cy="369.39" rx="0.7" ry="1.0" fill="#fff"/>
<ellipse cx="234.78" cy="369.52" rx="0.7" ry="1.0" fill="#fff"/>
<ellipse cx="237.16" cy="369.64" rx="0.7" ry="1.0" fill="#fff"/>
<ellipse cx="239.55" cy="369.77" rx="0.7" ry="1.0" fill="#fff"/>
<ellipse cx="241.93" cy="369.90" rx="0.7" ry="1.0" fill="#fff"/>
<ellipse cx="244.31" cy="370.03" rx="0.7" ry="1.0" fill="#fff"/>
<ellipse cx="246.70" cy="370.15" rx="0.7" ry="1.0" fill="#fff"/>
<ellipse cx="249.08" cy="370.28" rx="0.7" ry="1.0" fill="#fff"/>
<ellipse cx="251.46" cy="370.41" rx="0.7" ry="1.0" fill="#fff"/>
<ellipse cx="253.85" cy="370.54" rx="0.7" ry="1.0" fill="#fff"/>
<ellipse cx="256.23" cy="370.66" rx="0.7" ry="1.0" fill="#fff"/>
<ellipse cx="258.61" cy="370.79" rx="0.7" ry="1.0" fill="#fff"/>
<ellipse cx="261.00" cy="370.92" rx="0.7" ry="1.0" fill="#fff"/>
<ellipse cx="263.38" cy="371.05" rx="0.7" ry="1.0" fill="#fff"/>
<ellipse cx="265.76" cy="371.16" rx="0.7" ry="1.0" fill="#fff"/>
<ellipse cx="268.15" cy="371.27" rx="0.7" ry="1.0" fill="#fff"/>
<ellipse cx="270.53" cy="371.38" rx="0.7" ry="1.0" fill="#fff"/>
<ellipse cx="272.91" cy="371.49" rx="0.7" ry="1.0" fill="#fff"/>
<ellipse cx="275.30" cy="371.60" rx="0.7" ry="1.0" fill="#fff"/>
<ellipse cx="277.68" cy="371.71" rx="0.7" ry="1.0" fill="#fff"/>
<ellipse cx="280.06" cy="371.82" rx="0.7" ry="1.0" fill="#fff"/>
<ellipse cx="282.45" cy="371.92" rx="0.7" ry="1.0" fill="#fff"/>
<ellipse cx="284.83" cy="372.02" rx="0.7" ry="1.0" fill="#fff"/>
<ellipse cx="287.22" cy="372.12" rx="0.7" ry="1.0" fill="#fff"/>
<ellipse cx="289.60" cy="372.22" rx="0.7" ry="1.0" fill="#fff"/>
<ellipse cx="291.98" cy="372.33" rx="0.7" ry="1.0" fill="#fff"/>
<ellipse cx="294.37" cy="372.43" rx="0.7" ry="1.0" fill="#fff"/>
<ellipse cx="296.75" cy="372.53" rx="0.7" ry="1.0" fill="#fff"/>
<ellipse cx="299.13" cy="372.63" rx="0.7" ry="1.0" fill="#fff"/>
<ellipse cx="301.52" cy="372.73" rx="0.7" ry="1.0" fill="#fff"/>
<ellipse cx="303.90" cy="372.83" rx="0.7" ry="1.0" fill="#fff"/>
<ellipse cx="306.28" cy="372.94" rx="0.7" ry="1.0" fill="#fff"/>
<ellipse cx="308.67" cy="373.04" rx="0.7" ry="1.0" fill="#fff"/>
<ellipse cx="311.05" cy="373.14" rx="0.7" ry="1.0" fill="#fff"/>
<ellipse cx="313.43" cy="373.23" rx="0.7" ry="1.0" fill="#fff"/>
<ellipse cx="315.82" cy="373.33" rx="0.7" ry="1.0" fill="#fff"/>
<ellipse cx="318.20" cy="373.42" rx="0.7" ry="1.0" fill="#fff"/>
<ellipse cx="320.58" cy="373.51" rx="0.7" ry="1.0" fill="#fff"/>
<ellipse cx="322.97" cy="373.60" rx="0.7" ry="1.0" fill="#fff"/>
<ellipse cx="325.35" cy="373.70" rx="0.7" ry="1.0" fill="#fff"/>
<ellipse cx="327.73" cy="373.79" rx="0.7" ry="1.0" fill="#fff"/>
<ellipse cx="330.12" cy="373.88" rx="0.7" ry="1.0" fill="#fff"/>
<ellipse cx="332.50" cy="373.98" rx="0.7" ry="1.0" fill="#fff"/>
<ellipse cx="334.88" cy="374.07" rx="0.7" ry="1.0" fill="#fff"/>
<ellipse cx="337.27" cy="374.16" rx="0.7" ry="1.0" fill="#fff"/>
<ellipse cx="339.65" cy="374.25" rx="0.7" ry="1.0" fill="#fff"/>
<ellipse cx="342.04" cy="374.35" rx="0.7" ry="1.0" fill="#fff"/>
<ellipse cx="344.42" cy="374.44" rx="0.7" ry="1.0" fill="#fff"/>
<ellipse cx="346.80" cy="374.53" rx="0.7" ry="1.0" fill="#fff"/>
<ellipse cx="349.19" cy="374.62" rx="0.7" ry="1.0" fill="#fff"/>
<ellipse cx="351.57" cy="374.72" rx="0.7" ry="1.0" fill="#fff"/>
<ellipse cx="353.95" cy="374.81" rx="0.7" ry="1.0" fill="#fff"/>
<ellipse cx="356.34" cy="374.90" rx="0.7" ry="1.0" fill="#fff"/>
<circle cx="75.08" cy="325.60" r="2.15" fill="none" stroke="#555" stroke-width="2.0"/>
<ellipse cx="75.08" cy="325.30" rx="0.8" ry="1.0" fill="#fff"/>
<circle cx="77.47" cy="329.18" r="2.15" fill="none" stroke="#555" stroke-width="2.0"/>
<ellipse cx="77.47" cy="328.88" rx="0.8" ry="1.0" fill="#fff"/>
<path d="M75.08,309.62 L77.47,309.99 L79.85,310.36 L82.23,310.73 L84.62,311.18 L87.00,311.63 L89.38,312.08 L91.77,312.53 L94.15,312.98 L96.53,313.43 L98.92,313.88 L101.30,314.33 L103.69,314.78 L106.07,315.23 L108.45,315.69 L110.84,316.08 L113.22,316.48 L115.60,316.88 L117.99,317.28 L120.37,317.67 L122.75,318.07 L125.14,318.47 L127.52,318.87 L129.90,319.27 L132.29,319.66 L134.67,320.06 L137.05,320.46 L139.44,320.86 L141.82,321.26 L144.21,321.65 L146.59,322.05 L148.97,322.45 L151.36,322.85 L153.74,323.24 L156.12,323.63 L158.51,324.01 L160.89,324.40 L163.27,324.79 L165.66,325.18 L168.04,325.57 L170.42,325.96 L172.81,326.35 L175.19,326.74 L177.57,327.13 L179.96,327.52 L182.34,327.90 L184.72,328.29 L187.11,328.68 L189.49,329.07 L191.88,329.46 L194.26,329.77 L196.64,330.08 L199.03,330.38 L201.41,330.69 L203.79,331.00 L206.18,331.31 L208.56,331.62 L210.94,331.92 L213.33,332.23 L215.71,332.54 L218.09,332.85 L220.48,333.15 L222.86,333.46 L225.24,333.77 L227.63,334.08 L230.01,334.39 L232.39,334.69 L234.78,334.99 L237.16,335.29 L239.55,335.59 L241.93,335.89 L244.31,336.19 L246.70,336.49 L249.08,336.79 L251.46,337.09 L253.85,337.39 L256.23,337.69 L258.61,337.99 L261.00,338.29 L263.38,338.59 L265.76,338.89 L268.15,339.19 L270.53,339.49 L272.91,339.79 L275.30,340.08 L277.68,340.38 L280.06,340.68 L282.45,340.98 L284.83,341.28 L287.22,341.58 L289.60,341.80 L291.98,342.02 L294.37,342.24 L296.75,342.46 L299.13,342.68 L301.52,342.90 L303.90,343.12 L306.28,343.35 L308.67,343.57 L311.05,343.79 L313.43,344.01 L315.82,344.23 L318.20,344.45 L320.58,344.67 L322.97,344.89 L325.35,345.11 L327.73,345.33 L330.12,345.55 L332.50,345.77 L334.88,345.99 L337.27,346.19 L339.65,346.38 L342.04,346.58 L344.42,346.78 L346.80,346.97 L349.19,347.17 L351.57,347.37 L353.95,347.56 L356.34,347.76 L358.72,347.96 L361.10,348.15 L363.49,348.35 L365.87,348.55 L368.25,348.75" fill="none" stroke="#d00020" stroke-width="6.300000000000001" stroke-linejoin="round" stroke-linecap="round" opacity="0.55"/>
<path d="M75.08,309.62 L77.47,309.99 L79.85,310.36 L82.23,310.73 L84.62,311.18 L87.00,311.63 L89.38,312.08 L91.77,312.53 L94.15,312.98 L96.53,313.43 L98.92,313.88 L101.30,314.33 L103.69,314.78 L106.07,315.23 L108.45,315.69 L110.84,316.08 L113.22,316.48 L115.60,316.88 L117.99,317.28 L120.37,317.67 L122.75,318.07 L125.14,318.47 L127.52,318.87 L129.90,319.27 L132.29,319.66 L134.67,320.06 L137.05,320.46 L139.44,320.86 L141.82,321.26 L144.21,321.65 L146.59,322.05 L148.97,322.45 L151.36,322.85 L153.74,323.24 L156.12,323.63 L158.51,324.01 L160.89,324.40 L163.27,324.79 L165.66,325.18 L168.04,325.57 L170.42,325.96 L172.81,326.35 L175.19,326.74 L177.57,327.13 L179.96,327.52 L182.34,327.90 L184.72,328.29 L187.11,328.68 L189.49,329.07 L191.88,329.46 L194.26,329.77 L196.64,330.08 L199.03,330.38 L201.41,330.69 L203.79,331.00 L206.18,331.31 L208.56,331.62 L210.94,331.92 L213.33,332.23 L215.71,332.54 L218.09,332.85 L220.48,333.15 L222.86,333.46 L225.24,333.77 L227.63,334.08 L230.01,334.39 L232.39,334.69 L234.78,334.99 L237.16,335.29 L239.55,335.59 L241.93,335.89 L244.31,336.19 L246.70,336.49 L249.08,336.79 L251.46,337.09 L253.85,337.39 L256.23,337.69 L258.61,337.99 L261.00,338.29 L263.38,338.59 L265.76,338.89 L268.15,339.19 L270.53,339.49 L272.91,339.79 L275.30,340.08 L277.68,340.38 L280.06,340.68 L282.45,340.98 L284.83,341.28 L287.22,341.58 L289.60,341.80 L291.98,342.02 L294.37,342.24 L296.75,342.46 L299.13,342.68 L301.52,342.90 L303.90,343.12 L306.28,343.35 L308.67,343.57 L311.05,343.79 L313.43,344.01 L315.82,344.23 L318.20,344.45 L320.58,344.67 L322.97,344.89 L325.35,345.11 L327.73,345.33 L330.12,345.55 L332.50,345.77 L334.88,345.99 L337.27,346.19 L339.65,346.38 L342.04,346.58 L344.42,346.78 L346.80,346.97 L349.19,347.17 L351.57,347.37 L353.95,347.56 L356.34,347.76 L358.72,347.96 L361.10,348.15 L363.49,348.35 L365.87,348.55 L368.25,348.75" fill="none" stroke="#ff0a2c" stroke-width="5.4" stroke-linejoin="round" stroke-linecap="round" />
<ellipse cx="75.08" cy="309.22" rx="0.7" ry="1.0" fill="#fff"/>
<ellipse cx="77.47" cy="309.59" rx="0.7" ry="1.0" fill="#fff"/>
<ellipse cx="79.85" cy="309.96" rx="0.7" ry="1.0" fill="#fff"/>
<ellipse cx="82.23" cy="310.33" rx="0.7" ry="1.0" fill="#fff"/>
<ellipse cx="84.62" cy="310.78" rx="0.7" ry="1.0" fill="#fff"/>
<ellipse cx="87.00" cy="311.23" rx="0.7" ry="1.0" fill="#fff"/>
<ellipse cx="89.38" cy="311.68" rx="0.7" ry="1.0" fill="#fff"/>
<ellipse cx="91.77" cy="312.13" rx="0.7" ry="1.0" fill="#fff"/>
<ellipse cx="94.15" cy="312.58" rx="0.7" ry="1.0" fill="#fff"/>
<ellipse cx="96.53" cy="313.03" rx="0.7" ry="1.0" fill="#fff"/>
<ellipse cx="98.92" cy="313.48" rx="0.7" ry="1.0" fill="#fff"/>
<ellipse cx="101.30" cy="313.93" rx="0.7" ry="1.0" fill="#fff"/>
<ellipse cx="103.69" cy="314.38" rx="0.7" ry="1.0" fill="#fff"/>
<ellipse cx="106.07" cy="314.83" rx="0.7" ry="1.0" fill="#fff"/>
<ellipse cx="108.45" cy="315.29" rx="0.7" ry="1.0" fill="#fff"/>
<ellipse cx="110.84" cy="315.68" rx="0.7" ry="1.0" fill="#fff"/>
<ellipse cx="113.22" cy="316.08" rx="0.7" ry="1.0" fill="#fff"/>
<ellipse cx="115.60" cy="316.48" rx="0.7" ry="1.0" fill="#fff"/>
<ellipse cx="117.99" cy="316.88" rx="0.7" ry="1.0" fill="#fff"/>
<ellipse cx="120.37" cy="317.27" rx="0.7" ry="1.0" fill="#fff"/>
<ellipse cx="122.75" cy="317.67" rx="0.7" ry="1.0" fill="#fff"/>
<ellipse cx="125.14" cy="318.07" rx="0.7" ry="1.0" fill="#fff"/>
<ellipse cx="127.52" cy="318.47" rx="0.7" ry="1.0" fill="#fff"/>
<ellipse cx="129.90" cy="318.87" rx="0.7" ry="1.0" fill="#fff"/>
<ellipse cx="132.29" cy="319.26" rx="0.7" ry="1.0" fill="#fff"/>
<ellipse cx="134.67" cy="319.66" rx="0.7" ry="1.0" fill="#fff"/>
<ellipse cx="137.05" cy="320.06" rx="0.7" ry="1.0" fill="#fff"/>
<ellipse cx="139.44" cy="320.46" rx="0.7" ry="1.0" fill="#fff"/>
<ellipse cx="141.82" cy="320.86" rx="0.7" ry="1.0" fill="#fff"/>
<ellipse cx="144.21" cy="321.25" rx="0.7" ry="1.0" fill="#fff"/>
<ellipse cx="146.59" cy="321.65" rx="0.7" ry="1.0" fill="#fff"/>
<ellipse cx="148.97" cy="322.05" rx="0.7" ry="1.0" fill="#fff"/>
<ellipse cx="151.36" cy="322.45" rx="0.7" ry="1.0" fill="#fff"/>
<ellipse cx="153.74" cy="322.84" rx="0.7" ry="1.0" fill="#fff"/>
<ellipse cx="156.12" cy="323.23" rx="0.7" ry="1.0" fill="#fff"/>
<ellipse cx="158.51" cy="323.61" rx="0.7" ry="1.0" fill="#fff"/>
<ellipse cx="160.89" cy="324.00" rx="0.7" ry="1.0" fill="#fff"/>
<ellipse cx="163.27" cy="324.39" rx="0.7" ry="1.0" fill="#fff"/>
<ellipse cx="165.66" cy="324.78" rx="0.7" ry="1.0" fill="#fff"/>
<ellipse cx="168.04" cy="325.17" rx="0.7" ry="1.0" fill="#fff"/>
<ellipse cx="170.42" cy="325.56" rx="0.7" ry="1.0" fill="#fff"/>
<ellipse cx="172.81" cy="325.95" rx="0.7" ry="1.0" fill="#fff"/>
<ellipse cx="175.19" cy="326.34" rx="0.7" ry="1.0" fill="#fff"/>
<ellipse cx="177.57" cy="326.73" rx="0.7" ry="1.0" fill="#fff"/>
<ellipse cx="179.96" cy="327.12" rx="0.7" ry="1.0" fill="#fff"/>
<ellipse cx="182.34" cy="327.50" rx="0.7" ry="1.0" fill="#fff"/>
<ellipse cx="184.72" cy="327.89" rx="0.7" ry="1.0" fill="#fff"/>
<ellipse cx="187.11" cy="328.28" rx="0.7" ry="1.0" fill="#fff"/>
<ellipse cx="189.49" cy="328.67" rx="0.7" ry="1.0" fill="#fff"/>
<ellipse cx="191.88" cy="329.06" rx="0.7" ry="1.0" fill="#fff"/>
<ellipse cx="194.26" cy="329.37" rx="0.7" ry="1.0" fill="#fff"/>
<ellipse cx="196.64" cy="329.68" rx="0.7" ry="1.0" fill="#fff"/>
<ellipse cx="199.03" cy="329.98" rx="0.7" ry="1.0" fill="#fff"/>
<ellipse cx="201.41" cy="330.29" rx="0.7" ry="1.0" fill="#fff"/>
<ellipse cx="203.79" cy="330.60" rx="0.7" ry="1.0" fill="#fff"/>
<ellipse cx="206.18" cy="330.91" rx="0.7" ry="1.0" fill="#fff"/>
<ellipse cx="208.56" cy="331.22" rx="0.7" ry="1.0" fill="#fff"/>
<ellipse cx="210.94" cy="331.52" rx="0.7" ry="1.0" fill="#fff"/>
<ellipse cx="213.33" cy="331.83" rx="0.7" ry="1.0" fill="#fff"/>
<ellipse cx="215.71" cy="332.14" rx="0.7" ry="1.0" fill="#fff"/>
<ellipse cx="218.09" cy="332.45" rx="0.7" ry="1.0" fill="#fff"/>
<ellipse cx="220.48" cy="332.75" rx="0.7" ry="1.0" fill="#fff"/>
<ellipse cx="222.86" cy="333.06" rx="0.7" ry="1.0" fill="#fff"/>
<ellipse cx="225.24" cy="333.37" rx="0.7" ry="1.0" fill="#fff"/>
<ellipse cx="227.63" cy="333.68" rx="0.7" ry="1.0" fill="#fff"/>
<ellipse cx="230.01" cy="333.99" rx="0.7" ry="1.0" fill="#fff"/>
<ellipse cx="232.39" cy="334.29" rx="0.7" ry="1.0" fill="#fff"/>
<ellipse cx="234.78" cy="334.59" rx="0.7" ry="1.0" fill="#fff"/>
<ellipse cx="237.16" cy="334.89" rx="0.7" ry="1.0" fill="#fff"/>
<ellipse cx="239.55" cy="335.19" rx="0.7" ry="1.0" fill="#fff"/>
<ellipse cx="241.93" cy="335.49" rx="0.7" ry="1.0" fill="#fff"/>
<ellipse cx="244.31" cy="335.79" rx="0.7" ry="1.0" fill="#fff"/>
<ellipse cx="246.70" cy="336.09" rx="0.7" ry="1.0" fill="#fff"/>
<ellipse cx="249.08" cy="336.39" rx="0.7" ry="1.0" fill="#fff"/>
<ellipse cx="251.46" cy="336.69" rx="0.7" ry="1.0" fill="#fff"/>
<ellipse cx="253.85" cy="336.99" rx="0.7" ry="1.0" fill="#fff"/>
<ellipse cx="256.23" cy="337.29" rx="0.7" ry="1.0" fill="#fff"/>
<ellipse cx="258.61" cy="337.59" rx="0.7" ry="1.0" fill="#fff"/>
<ellipse cx="261.00" cy="337.89" rx="0.7" ry="1.0" fill="#fff"/>
<ellipse cx="263.38" cy="338.19" rx="0.7" ry="1.0" fill="#fff"/>
<ellipse cx="265.76" cy="338.49" rx="0.7" ry="1.0" fill="#fff"/>
<ellipse cx="268.15" cy="338.79" rx="0.7" ry="1.0" fill="#fff"/>
<ellipse cx="270.53" cy="339.09" rx="0.7" ry="1.0" fill="#fff"/>
<ellipse cx="272.91" cy="339.39" rx="0.7" ry="1.0" fill="#fff"/>
<ellipse cx="275.30" cy="339.68" rx="0.7" ry="1.0" fill="#fff"/>
<ellipse cx="277.68" cy="339.98" rx="0.7" ry="1.0" fill="#fff"/>
<ellipse cx="280.06" cy="340.28" rx="0.7" ry="1.0" fill="#fff"/>
<ellipse cx="282.45" cy="340.58" rx="0.7" ry="1.0" fill="#fff"/>
<ellipse cx="284.83" cy="340.88" rx="0.7" ry="1.0" fill="#fff"/>
<ellipse cx="287.22" cy="341.18" rx="0.7" ry="1.0" fill="#fff"/>
<ellipse cx="289.60" cy="341.40" rx="0.7" ry="1.0" fill="#fff"/>
<ellipse cx="291.98" cy="341.62" rx="0.7" ry="1.0" fill="#fff"/>
<ellipse cx="294.37" cy="341.84" rx="0.7" ry="1.0" fill="#fff"/>
<ellipse cx="296.75" cy="342.06" rx="0.7" ry="1.0" fill="#fff"/>
<ellipse cx="299.13" cy="342.28" rx="0.7" ry="1.0" fill="#fff"/>
<ellipse cx="301.52" cy="342.50" rx="0.7" ry="1.0" fill="#fff"/>
<ellipse cx="303.90" cy="342.72" rx="0.7" ry="1.0" fill="#fff"/>
<ellipse cx="306.28" cy="342.95" rx="0.7" ry="1.0" fill="#fff"/>
<ellipse cx="308.67" cy="343.17" rx="0.7" ry="1.0" fill="#fff"/>
<ellipse cx="311.05" cy="343.39" rx="0.7" ry="1.0" fill="#fff"/>
<ellipse cx="313.43" cy="343.61" rx="0.7" ry="1.0" fill="#fff"/>
<ellipse cx="315.82" cy="343.83" rx="0.7" ry="1.0" fill="#fff"/>
<ellipse cx="318.20" cy="344.05" rx="0.7" ry="1.0" fill="#fff"/>
<ellipse cx="320.58" cy="344.27" rx="0.7" ry="1.0" fill="#fff"/>
<ellipse cx="322.97" cy="344.49" rx="0.7" ry="1.0" fill="#fff"/>
<ellipse cx="325.35" cy="344.71" rx="0.7" ry="1.0" fill="#fff"/>
<ellipse cx="327.73" cy="344.93" rx="0.7" ry="1.0" fill="#fff"/>
<ellipse cx="330.12" cy="345.15" rx="0.7" ry="1.0" fill="#fff"/>
<ellipse cx="332.50" cy="345.37" rx="0.7" ry="1.0" fill="#fff"/>
<ellipse cx="334.88" cy="345.59" rx="0.7" ry="1.0" fill="#fff"/>
<ellipse cx="337.27" cy="345.79" rx="0.7" ry="1.0" fill="#fff"/>
<ellipse cx="339.65" cy="345.98" rx="0.7" ry="1.0" fill="#fff"/>
<ellipse cx="342.04" cy="346.18" rx="0.7" ry="1.0" fill="#fff"/>
<ellipse cx="344.42" cy="346.38" rx="0.7" ry="1.0" fill="#fff"/>
<ellipse cx="346.80" cy="346.57" rx="0.7" ry="1.0" fill="#fff"/>
<ellipse cx="349.19" cy="346.77" rx="0.7" ry="1.0" fill="#fff"/>
<ellipse cx="351.57" cy="346.97" rx="0.7" ry="1.0" fill="#fff"/>
<ellipse cx="353.95" cy="347.16" rx="0.7" ry="1.0" fill="#fff"/>
<ellipse cx="356.34" cy="347.36" rx="0.7" ry="1.0" fill="#fff"/>
<ellipse cx="358.72" cy="347.56" rx="0.7" ry="1.0" fill="#fff"/>
<ellipse cx="361.10" cy="347.75" rx="0.7" ry="1.0" fill="#fff"/>
<ellipse cx="363.49" cy="347.95" rx="0.7" ry="1.0" fill="#fff"/>
<ellipse cx="365.87" cy="348.15" rx="0.7" ry="1.0" fill="#fff"/>
<ellipse cx="368.25" cy="348.35" rx="0.7" ry="1.0" fill="#fff"/>
<path d="M79.85,313.21 L82.23,314.47 L84.62,315.74 L87.00,317.01 L89.38,318.27 L91.77,319.54 L94.15,320.32 L96.53,321.10 L98.92,321.88 L101.30,322.65 L103.69,323.43 L106.07,324.21 L108.45,324.99 L110.84,325.77 L113.22,326.38 L115.60,326.84 L117.99,327.30 L120.37,327.76 L122.75,328.21 L125.14,328.67 L127.52,329.13 L129.90,329.59 L132.29,330.04 L134.67,330.50 L137.05,330.96 L139.44,331.42 L141.82,331.87 L144.21,332.33 L146.59,332.79 L148.97,333.25 L151.36,333.70 L153.74,334.07 L156.12,334.44 L158.51,334.80 L160.89,335.17 L163.27,335.53 L165.66,335.90 L168.04,336.27 L170.42,336.63 L172.81,337.00 L175.19,337.37 L177.57,337.73 L179.96,338.10 L182.34,338.46 L184.72,338.83 L187.11,339.20 L189.49,339.56 L191.88,339.93 L194.26,340.35 L196.64,340.78 L199.03,341.20 L201.41,341.63 L203.79,342.05 L206.18,342.47 L208.56,342.90 L210.94,343.32 L213.33,343.75 L215.71,344.17 L218.09,344.43 L220.48,344.69 L222.86,344.95 L225.24,345.21 L227.63,345.47 L230.01,345.73 L232.39,345.99 L234.78,346.17 L237.16,346.34 L239.55,346.52 L241.93,346.70 L244.31,346.87 L246.70,347.05 L249.08,347.22 L251.46,347.40 L253.85,347.58 L256.23,347.75 L258.61,347.93 L261.00,348.11 L263.38,348.28 L265.76,348.46 L268.15,348.63 L270.53,348.81 L272.91,348.99 L275.30,349.16 L277.68,349.34 L280.06,349.52 L282.45,349.47 L284.83,349.43 L287.22,349.38 L289.60,349.34 L291.98,349.30 L294.37,349.36 L296.75,349.42 L299.13,349.49 L301.52,349.55 L303.90,349.61 L306.28,349.68 L308.67,349.74 L311.05,349.80 L313.43,349.87 L315.82,349.93 L318.20,350.00 L320.58,350.06 L322.97,350.12 L325.35,350.32 L327.73,350.52 L330.12,350.71 L332.50,350.91 L334.88,351.11 L337.27,351.30 L339.65,351.50 L342.04,352.26 L344.42,353.02 L346.80,353.77 L349.19,354.53 L351.57,354.32 L353.95,354.12 L356.34,353.91 L358.72,353.70 L361.10,353.92 L363.49,354.14 L365.87,354.37 L368.25,354.59 L370.64,354.81 L373.02,355.03 L375.40,355.25 L377.79,355.47 L380.17,355.69 L382.56,355.91 L384.94,355.95 L387.32,356.00 L389.71,356.05 L392.09,356.09 L394.47,356.14 L396.86,356.18 L399.24,356.55 L401.62,356.92 L404.01,357.29 L406.39,357.49 L408.77,357.69 L411.16,357.89 L413.54,358.09 L415.92,358.29 L418.31,358.49 L420.69,358.69 L423.07,358.89 L425.46,359.09 L427.84,359.29 L430.23,359.49" fill="none" stroke="#5a9a30" stroke-width="6.300000000000001" stroke-linejoin="round" stroke-linecap="round" opacity="0.55"/>
<path d="M79.85,313.21 L82.23,314.47 L84.62,315.74 L87.00,317.01 L89.38,318.27 L91.77,319.54 L94.15,320.32 L96.53,321.10 L98.92,321.88 L101.30,322.65 L103.69,323.43 L106.07,324.21 L108.45,324.99 L110.84,325.77 L113.22,326.38 L115.60,326.84 L117.99,327.30 L120.37,327.76 L122.75,328.21 L125.14,328.67 L127.52,329.13 L129.90,329.59 L132.29,330.04 L134.67,330.50 L137.05,330.96 L139.44,331.42 L141.82,331.87 L144.21,332.33 L146.59,332.79 L148.97,333.25 L151.36,333.70 L153.74,334.07 L156.12,334.44 L158.51,334.80 L160.89,335.17 L163.27,335.53 L165.66,335.90 L168.04,336.27 L170.42,336.63 L172.81,337.00 L175.19,337.37 L177.57,337.73 L179.96,338.10 L182.34,338.46 L184.72,338.83 L187.11,339.20 L189.49,339.56 L191.88,339.93 L194.26,340.35 L196.64,340.78 L199.03,341.20 L201.41,341.63 L203.79,342.05 L206.18,342.47 L208.56,342.90 L210.94,343.32 L213.33,343.75 L215.71,344.17 L218.09,344.43 L220.48,344.69 L222.86,344.95 L225.24,345.21 L227.63,345.47 L230.01,345.73 L232.39,345.99 L234.78,346.17 L237.16,346.34 L239.55,346.52 L241.93,346.70 L244.31,346.87 L246.70,347.05 L249.08,347.22 L251.46,347.40 L253.85,347.58 L256.23,347.75 L258.61,347.93 L261.00,348.11 L263.38,348.28 L265.76,348.46 L268.15,348.63 L270.53,348.81 L272.91,348.99 L275.30,349.16 L277.68,349.34 L280.06,349.52 L282.45,349.47 L284.83,349.43 L287.22,349.38 L289.60,349.34 L291.98,349.30 L294.37,349.36 L296.75,349.42 L299.13,349.49 L301.52,349.55 L303.90,349.61 L306.28,349.68 L308.67,349.74 L311.05,349.80 L313.43,349.87 L315.82,349.93 L318.20,350.00 L320.58,350.06 L322.97,350.12 L325.35,350.32 L327.73,350.52 L330.12,350.71 L332.50,350.91 L334.88,351.11 L337.27,351.30 L339.65,351.50 L342.04,352.26 L344.42,353.02 L346.80,353.77 L349.19,354.53 L351.57,354.32 L353.95,354.12 L356.34,353.91 L358.72,353.70 L361.10,353.92 L363.49,354.14 L365.87,354.37 L368.25,354.59 L370.64,354.81 L373.02,355.03 L375.40,355.25 L377.79,355.47 L380.17,355.69 L382.56,355.91 L384.94,355.95 L387.32,356.00 L389.71,356.05 L392.09,356.09 L394.47,356.14 L396.86,356.18 L399.24,356.55 L401.62,356.92 L404.01,357.29 L406.39,357.49 L408.77,357.69 L411.16,357.89 L413.54,358.09 L415.92,358.29 L418.31,358.49 L420.69,358.69 L423.07,358.89 L425.46,359.09 L427.84,359.29 L430.23,359.49" fill="none" stroke="#78c244" stroke-width="5.4" stroke-linejoin="round" stroke-linecap="round" />
<ellipse cx="79.85" cy="312.81" rx="0.7" ry="1.0" fill="#fff"/>
<ellipse cx="82.23" cy="314.07" rx="0.7" ry="1.0" fill="#fff"/>
<ellipse cx="84.62" cy="315.34" rx="0.7" ry="1.0" fill="#fff"/>
<ellipse cx="87.00" cy="316.61" rx="0.7" ry="1.0" fill="#fff"/>
<ellipse cx="89.38" cy="317.87" rx="0.7" ry="1.0" fill="#fff"/>
<ellipse cx="91.77" cy="319.14" rx="0.7" ry="1.0" fill="#fff"/>
<ellipse cx="94.15" cy="319.92" rx="0.7" ry="1.0" fill="#fff"/>
<ellipse cx="96.53" cy="320.70" rx="0.7" ry="1.0" fill="#fff"/>
<ellipse cx="98.92" cy="321.48" rx="0.7" ry="1.0" fill="#fff"/>
<ellipse cx="101.30" cy="322.25" rx="0.7" ry="1.0" fill="#fff"/>
<ellipse cx="103.69" cy="323.03" rx="0.7" ry="1.0" fill="#fff"/>
<ellipse cx="106.07" cy="323.81" rx="0.7" ry="1.0" fill="#fff"/>
<ellipse cx="108.45" cy="324.59" rx="0.7" ry="1.0" fill="#fff"/>
<ellipse cx="110.84" cy="325.37" rx="0.7" ry="1.0" fill="#fff"/>
<ellipse cx="113.22" cy="325.98" rx="0.7" ry="1.0" fill="#fff"/>
<ellipse cx="115.60" cy="326.44" rx="0.7" ry="1.0" fill="#fff"/>
<ellipse cx="117.99" cy="326.90" rx="0.7" ry="1.0" fill="#fff"/>
<ellipse cx="120.37" cy="327.36" rx="0.7" ry="1.0" fill="#fff"/>
<ellipse cx="122.75" cy="327.81" rx="0.7" ry="1.0" fill="#fff"/>
<ellipse cx="125.14" cy="328.27" rx="0.7" ry="1.0" fill="#fff"/>
<ellipse cx="127.52" cy="328.73" rx="0.7" ry="1.0" fill="#fff"/>
<ellipse cx="129.90" cy="329.19" rx="0.7" ry="1.0" fill="#fff"/>
<ellipse cx="132.29" cy="329.64" rx="0.7" ry="1.0" fill="#fff"/>
<ellipse cx="134.67" cy="330.10" rx="0.7" ry="1.0" fill="#fff"/>
<ellipse cx="137.05" cy="330.56" rx="0.7" ry="1.0" fill="#fff"/>
<ellipse cx="139.44" cy="331.02" rx="0.7" ry="1.0" fill="#fff"/>
<ellipse cx="141.82" cy="331.47" rx="0.7" ry="1.0" fill="#fff"/>
<ellipse cx="144.21" cy="331.93" rx="0.7" ry="1.0" fill="#fff"/>
<ellipse cx="146.59" cy="332.39" rx="0.7" ry="1.0" fill="#fff"/>
<ellipse cx="148.97" cy="332.85" rx="0.7" ry="1.0" fill="#fff"/>
<ellipse cx="151.36" cy="333.30" rx="0.7" ry="1.0" fill="#fff"/>
<ellipse cx="153.74" cy="333.67" rx="0.7" ry="1.0" fill="#fff"/>
<ellipse cx="156.12" cy="334.04" rx="0.7" ry="1.0" fill="#fff"/>
<ellipse cx="158.51" cy="334.40" rx="0.7" ry="1.0" fill="#fff"/>
<ellipse cx="160.89" cy="334.77" rx="0.7" ry="1.0" fill="#fff"/>
<ellipse cx="163.27" cy="335.13" rx="0.7" ry="1.0" fill="#fff"/>
<ellipse cx="165.66" cy="335.50" rx="0.7" ry="1.0" fill="#fff"/>
<ellipse cx="168.04" cy="335.87" rx="0.7" ry="1.0" fill="#fff"/>
<ellipse cx="170.42" cy="336.23" rx="0.7" ry="1.0" fill="#fff"/>
<ellipse cx="172.81" cy="336.60" rx="0.7" ry="1.0" fill="#fff"/>
<ellipse cx="175.19" cy="336.97" rx="0.7" ry="1.0" fill="#fff"/>
<ellipse cx="177.57" cy="337.33" rx="0.7" ry="1.0" fill="#fff"/>
<ellipse cx="179.96" cy="337.70" rx="0.7" ry="1.0" fill="#fff"/>
<ellipse cx="182.34" cy="338.06" rx="0.7" ry="1.0" fill="#fff"/>
<ellipse cx="184.72" cy="338.43" rx="0.7" ry="1.0" fill="#fff"/>
<ellipse cx="187.11" cy="338.80" rx="0.7" ry="1.0" fill="#fff"/>
<ellipse cx="189.49" cy="339.16" rx="0.7" ry="1.0" fill="#fff"/>
<ellipse cx="191.88" cy="339.53" rx="0.7" ry="1.0" fill="#fff"/>
<ellipse cx="194.26" cy="339.95" rx="0.7" ry="1.0" fill="#fff"/>
<ellipse cx="196.64" cy="340.38" rx="0.7" ry="1.0" fill="#fff"/>
<ellipse cx="199.03" cy="340.80" rx="0.7" ry="1.0" fill="#fff"/>
<ellipse cx="201.41" cy="341.23" rx="0.7" ry="1.0" fill="#fff"/>
<ellipse cx="203.79" cy="341.65" rx="0.7" ry="1.0" fill="#fff"/>
<ellipse cx="206.18" cy="342.07" rx="0.7" ry="1.0" fill="#fff"/>
<ellipse cx="208.56" cy="342.50" rx="0.7" ry="1.0" fill="#fff"/>
<ellipse cx="210.94" cy="342.92" rx="0.7" ry="1.0" fill="#fff"/>
<ellipse cx="213.33" cy="343.35" rx="0.7" ry="1.0" fill="#fff"/>
<ellipse cx="215.71" cy="343.77" rx="0.7" ry="1.0" fill="#fff"/>
<ellipse cx="218.09" cy="344.03" rx="0.7" ry="1.0" fill="#fff"/>
<ellipse cx="220.48" cy="344.29" rx="0.7" ry="1.0" fill="#fff"/>
<ellipse cx="222.86" cy="344.55" rx="0.7" ry="1.0" fill="#fff"/>
<ellipse cx="225.24" cy="344.81" rx="0.7" ry="1.0" fill="#fff"/>
<ellipse cx="227.63" cy="345.07" rx="0.7" ry="1.0" fill="#fff"/>
<ellipse cx="230.01" cy="345.33" rx="0.7" ry="1.0" fill="#fff"/>
<ellipse cx="232.39" cy="345.59" rx="0.7" ry="1.0" fill="#fff"/>
<ellipse cx="234.78" cy="345.77" rx="0.7" ry="1.0" fill="#fff"/>
<ellipse cx="237.16" cy="345.94" rx="0.7" ry="1.0" fill="#fff"/>
<ellipse cx="239.55" cy="346.12" rx="0.7" ry="1.0" fill="#fff"/>
<ellipse cx="241.93" cy="346.30" rx="0.7" ry="1.0" fill="#fff"/>
<ellipse cx="244.31" cy="346.47" rx="0.7" ry="1.0" fill="#fff"/>
<ellipse cx="246.70" cy="346.65" rx="0.7" ry="1.0" fill="#fff"/>
<ellipse cx="249.08" cy="346.82" rx="0.7" ry="1.0" fill="#fff"/>
<ellipse cx="251.46" cy="347.00" rx="0.7" ry="1.0" fill="#fff"/>
<ellipse cx="253.85" cy="347.18" rx="0.7" ry="1.0" fill="#fff"/>
<ellipse cx="256.23" cy="347.35" rx="0.7" ry="1.0" fill="#fff"/>
<ellipse cx="258.61" cy="347.53" rx="0.7" ry="1.0" fill="#fff"/>
<ellipse cx="261.00" cy="347.71" rx="0.7" ry="1.0" fill="#fff"/>
<ellipse cx="263.38" cy="347.88" rx="0.7" ry="1.0" fill="#fff"/>
<ellipse cx="265.76" cy="348.06" rx="0.7" ry="1.0" fill="#fff"/>
<ellipse cx="268.15" cy="348.23" rx="0.7" ry="1.0" fill="#fff"/>
<ellipse cx="270.53" cy="348.41" rx="0.7" ry="1.0" fill="#fff"/>
<ellipse cx="272.91" cy="348.59" rx="0.7" ry="1.0" fill="#fff"/>
<ellipse cx="275.30" cy="348.76" rx="0.7" ry="1.0" fill="#fff"/>
<ellipse cx="277.68" cy="348.94" rx="0.7" ry="1.0" fill="#fff"/>
<ellipse cx="280.06" cy="349.12" rx="0.7" ry="1.0" fill="#fff"/>
<ellipse cx="282.45" cy="349.07" rx="0.7" ry="1.0" fill="#fff"/>
<ellipse cx="284.83" cy="349.03" rx="0.7" ry="1.0" fill="#fff"/>
<ellipse cx="287.22" cy="348.98" rx="0.7" ry="1.0" fill="#fff"/>
<ellipse cx="289.60" cy="348.94" rx="0.7" ry="1.0" fill="#fff"/>
<ellipse cx="291.98" cy="348.90" rx="0.7" ry="1.0" fill="#fff"/>
<ellipse cx="294.37" cy="348.96" rx="0.7" ry="1.0" fill="#fff"/>
<ellipse cx="296.75" cy="349.02" rx="0.7" ry="1.0" fill="#fff"/>
<ellipse cx="299.13" cy="349.09" rx="0.7" ry="1.0" fill="#fff"/>
<ellipse cx="301.52" cy="349.15" rx="0.7" ry="1.0" fill="#fff"/>
<ellipse cx="303.90" cy="349.21" rx="0.7" ry="1.0" fill="#fff"/>
<ellipse cx="306.28" cy="349.28" rx="0.7" ry="1.0" fill="#fff"/>
<ellipse cx="308.67" cy="349.34" rx="0.7" ry="1.0" fill="#fff"/>
<ellipse cx="311.05" cy="349.40" rx="0.7" ry="1.0" fill="#fff"/>
<ellipse cx="313.43" cy="349.47" rx="0.7" ry="1.0" fill="#fff"/>
<ellipse cx="315.82" cy="349.53" rx="0.7" ry="1.0" fill="#fff"/>
<ellipse cx="318.20" cy="349.60" rx="0.7" ry="1.0" fill="#fff"/>
<ellipse cx="320.58" cy="349.66" rx="0.7" ry="1.0" fill="#fff"/>
<ellipse cx="322.97" cy="349.72" rx="0.7" ry="1.0" fill="#fff"/>
<ellipse cx="325.35" cy="349.92" rx="0.7" ry="1.0" fill="#fff"/>
<ellipse cx="327.73" cy="350.12" rx="0.7" ry="1.0" fill="#fff"/>
<ellipse cx="330.12" cy="350.31" rx="0.7" ry="1.0" fill="#fff"/>
<ellipse cx="332.50" cy="350.51" rx="0.7" ry="1.0" fill="#fff"/>
<ellipse cx="334.88" cy="350.71" rx="0.7" ry="1.0" fill="#fff"/>
<ellipse cx="337.27" cy="350.90" rx="0.7" ry="1.0" fill="#fff"/>
<ellipse cx="339.65" cy="351.10" rx="0.7" ry="1.0" fill="#fff"/>
<ellipse cx="342.04" cy="351.86" rx="0.7" ry="1.0" fill="#fff"/>
<ellipse cx="344.42" cy="352.62" rx="0.7" ry="1.0" fill="#fff"/>
<ellipse cx="346.80" cy="353.37" rx="0.7" ry="1.0" fill="#fff"/>
<ellipse cx="349.19" cy="354.13" rx="0.7" ry="1.0" fill="#fff"/>
<ellipse cx="351.57" cy="353.92" rx="0.7" ry="1.0" fill="#fff"/>
<ellipse cx="353.95" cy="353.72" rx="0.7" ry="1.0" fill="#fff"/>
<ellipse cx="356.34" cy="353.51" rx="0.7" ry="1.0" fill="#fff"/>
<ellipse cx="358.72" cy="353.30" rx="0.7" ry="1.0" fill="#fff"/>
<ellipse cx="361.10" cy="353.52" rx="0.7" ry="1.0" fill="#fff"/>
<ellipse cx="363.49" cy="353.74" rx="0.7" ry="1.0" fill="#fff"/>
<ellipse cx="365.87" cy="353.97" rx="0.7" ry="1.0" fill="#fff"/>
<ellipse cx="368.25" cy="354.19" rx="0.7" ry="1.0" fill="#fff"/>
<ellipse cx="370.64" cy="354.41" rx="0.7" ry="1.0" fill="#fff"/>
<ellipse cx="373.02" cy="354.63" rx="0.7" ry="1.0" fill="#fff"/>
<ellipse cx="375.40" cy="354.85" rx="0.7" ry="1.0" fill="#fff"/>
<ellipse cx="377.79" cy="355.07" rx="0.7" ry="1.0" fill="#fff"/>
<ellipse cx="380.17" cy="355.29" rx="0.7" ry="1.0" fill="#fff"/>
<ellipse cx="382.56" cy="355.51" rx="0.7" ry="1.0" fill="#fff"/>
<ellipse cx="384.94" cy="355.55" rx="0.7" ry="1.0" fill="#fff"/>
<ellipse cx="387.32" cy="355.60" rx="0.7" ry="1.0" fill="#fff"/>
<ellipse cx="389.71" cy="355.65" rx="0.7" ry="1.0" fill="#fff"/>
<ellipse cx="392.09" cy="355.69" rx="0.7" ry="1.0" fill="#fff"/>
<ellipse cx="394.47" cy="355.74" rx="0.7" ry="1.0" fill="#fff"/>
<ellipse cx="396.86" cy="355.78" rx="0.7" ry="1.0" fill="#fff"/>
<ellipse cx="399.24" cy="356.15" rx="0.7" ry="1.0" fill="#fff"/>
<ellipse cx="401.62" cy="356.52" rx="0.7" ry="1.0" fill="#fff"/>
<ellipse cx="404.01" cy="356.89" rx="0.7" ry="1.0" fill="#fff"/>
<ellipse cx="406.39" cy="357.09" rx="0.7" ry="1.0" fill="#fff"/>
<ellipse cx="408.77" cy="357.29" rx="0.7" ry="1.0" fill="#fff"/>
<ellipse cx="411.16" cy="357.49" rx="0.7" ry="1.0" fill="#fff"/>
<ellipse cx="413.54" cy="357.69" rx="0.7" ry="1.0" fill="#fff"/>
<ellipse cx="415.92" cy="357.89" rx="0.7" ry="1.0" fill="#fff"/>
<ellipse cx="418.31" cy="358.09" rx="0.7" ry="1.0" fill="#fff"/>
<ellipse cx="420.69" cy="358.29" rx="0.7" ry="1.0" fill="#fff"/>
<ellipse cx="423.07" cy="358.49" rx="0.7" ry="1.0" fill="#fff"/>
<ellipse cx="425.46" cy="358.69" rx="0.7" ry="1.0" fill="#fff"/>
<ellipse cx="427.84" cy="358.89" rx="0.7" ry="1.0" fill="#fff"/>
<ellipse cx="430.23" cy="359.09" rx="0.7" ry="1.0" fill="#fff"/>
<circle cx="75.08" cy="305.49" r="2.15" fill="none" stroke="#78c244" stroke-width="2.0"/>
<ellipse cx="75.08" cy="305.19" rx="0.8" ry="1.0" fill="#fff"/>
<circle cx="77.47" cy="312.38" r="2.15" fill="none" stroke="#78c244" stroke-width="2.0"/>
<ellipse cx="77.47" cy="312.08" rx="0.8" ry="1.0" fill="#fff"/>
<path d="M79.85,308.52 L82.23,307.17 L84.62,305.82 L87.00,304.46 L89.38,303.11 L91.77,301.76 L94.15,300.83 L96.53,300.89 L98.92,300.95 L101.30,301.01 L103.69,301.07 L106.07,301.13 L108.45,301.19 L110.84,301.43 L113.22,301.67 L115.60,301.90 L117.99,302.14 L120.37,302.38 L122.75,302.62 L125.14,302.85 L127.52,303.09 L129.90,303.33 L132.29,303.56 L134.67,303.92 L137.05,304.27 L139.44,304.63 L141.82,304.98 L144.21,305.33 L146.59,305.69 L148.97,306.04 L151.36,306.11 L153.74,306.18 L156.12,306.25 L158.51,306.32 L160.89,305.60 L163.27,304.88 L165.66,306.09 L168.04,308.12 L170.42,307.76 L172.81,306.81 L175.19,306.81 L177.57,306.81 L179.96,306.81 L182.34,306.81 L184.72,306.81 L187.11,308.01 L189.49,309.20 L191.88,310.40 L194.26,310.40 L196.64,310.40 L199.03,310.27 L201.41,310.15 L203.79,310.03 L206.18,309.91 L208.56,309.79 L210.94,311.14 L213.33,312.49 L215.71,312.49 L218.09,312.49 L220.48,312.49 L222.86,312.16 L225.24,311.83 L227.63,311.50 L230.01,311.50 L232.39,311.50 L234.78,311.50 L237.16,311.50 L239.55,311.50 L241.93,311.50 L244.31,311.50 L246.70,311.50 L249.08,311.50 L251.46,311.50 L253.85,311.50 L256.23,311.50 L258.61,311.50 L261.00,311.50 L263.38,311.50 L265.76,311.50 L268.15,311.50 L270.53,314.29 L272.91,315.75 L275.30,315.88 L277.68,316.01 L280.06,316.14 L282.45,316.27 L284.83,316.40 L287.22,316.53 L289.60,316.66 L291.98,316.79 L294.37,316.92 L296.75,317.06 L299.13,317.20 L301.52,317.34 L303.90,317.48 L306.28,317.61 L308.67,317.75 L311.05,317.89 L313.43,318.03 L315.82,318.16 L318.20,318.30 L320.58,318.44 L322.97,318.58 L325.35,318.72 L327.73,318.81 L330.12,318.91 L332.50,319.00 L334.88,319.10 L337.27,319.19 L339.65,319.29 L342.04,319.38 L344.42,319.48 L346.80,319.57 L349.19,319.67 L351.57,319.76 L353.95,320.94 L356.34,320.52 L358.72,319.04 L361.10,318.53 L363.49,318.67 L365.87,318.81 L368.25,318.96 L370.64,319.10 L373.02,319.24 L375.40,319.39 L377.79,319.53 L380.17,319.67 L382.56,319.82 L384.94,319.93 L387.32,320.05 L389.71,320.16 L392.09,320.28 L394.47,320.40 L396.86,320.51 L399.24,320.63 L401.62,320.74 L404.01,320.86 L406.39,320.97 L408.77,321.05 L411.16,321.12 L413.54,321.19 L415.92,321.26 L418.31,321.33 L420.69,321.40 L423.07,321.48 L425.46,321.55 L427.84,321.62 L430.23,321.69 L432.61,321.69 L434.99,321.69 L437.38,321.69 L439.76,321.69 L442.14,321.69 L444.53,321.69 L446.91,321.69 L449.29,321.53 L451.68,320.29 L454.06,320.72 L456.44,321.16 L458.83,321.59 L461.21,322.02 L463.59,322.12 L465.98,322.22 L468.36,322.32 L470.74,322.42 L473.13,322.52 L475.51,322.62 L477.90,322.73 L480.28,322.83 L482.66,322.93 L485.05,323.03 L487.43,323.13 L489.81,323.23 L492.20,323.32 L494.58,323.39 L496.96,323.46 L499.35,323.53 L501.73,323.60 L504.11,323.67 L506.50,323.75 L508.88,323.82 L511.26,323.89 L513.65,323.96 L516.03,324.03 L518.41,324.10 L520.80,324.18 L523.18,324.26 L525.57,324.38 L527.95,324.51 L530.33,324.63 L532.72,324.75 L535.10,324.87 L537.48,324.99 L539.87,325.12 L542.25,325.24 L544.63,325.36 L547.02,325.48 L549.40,325.60" fill="none" stroke="#e07800" stroke-width="6.300000000000001" stroke-linejoin="round" stroke-linecap="round" opacity="0.55"/>
<path d="M79.85,308.52 L82.23,307.17 L84.62,305.82 L87.00,304.46 L89.38,303.11 L91.77,301.76 L94.15,300.83 L96.53,300.89 L98.92,300.95 L101.30,301.01 L103.69,301.07 L106.07,301.13 L108.45,301.19 L110.84,301.43 L113.22,301.67 L115.60,301.90 L117.99,302.14 L120.37,302.38 L122.75,302.62 L125.14,302.85 L127.52,303.09 L129.90,303.33 L132.29,303.56 L134.67,303.92 L137.05,304.27 L139.44,304.63 L141.82,304.98 L144.21,305.33 L146.59,305.69 L148.97,306.04 L151.36,306.11 L153.74,306.18 L156.12,306.25 L158.51,306.32 L160.89,305.60 L163.27,304.88 L165.66,306.09 L168.04,308.12 L170.42,307.76 L172.81,306.81 L175.19,306.81 L177.57,306.81 L179.96,306.81 L182.34,306.81 L184.72,306.81 L187.11,308.01 L189.49,309.20 L191.88,310.40 L194.26,310.40 L196.64,310.40 L199.03,310.27 L201.41,310.15 L203.79,310.03 L206.18,309.91 L208.56,309.79 L210.94,311.14 L213.33,312.49 L215.71,312.49 L218.09,312.49 L220.48,312.49 L222.86,312.16 L225.24,311.83 L227.63,311.50 L230.01,311.50 L232.39,311.50 L234.78,311.50 L237.16,311.50 L239.55,311.50 L241.93,311.50 L244.31,311.50 L246.70,311.50 L249.08,311.50 L251.46,311.50 L253.85,311.50 L256.23,311.50 L258.61,311.50 L261.00,311.50 L263.38,311.50 L265.76,311.50 L268.15,311.50 L270.53,314.29 L272.91,315.75 L275.30,315.88 L277.68,316.01 L280.06,316.14 L282.45,316.27 L284.83,316.40 L287.22,316.53 L289.60,316.66 L291.98,316.79 L294.37,316.92 L296.75,317.06 L299.13,317.20 L301.52,317.34 L303.90,317.48 L306.28,317.61 L308.67,317.75 L311.05,317.89 L313.43,318.03 L315.82,318.16 L318.20,318.30 L320.58,318.44 L322.97,318.58 L325.35,318.72 L327.73,318.81 L330.12,318.91 L332.50,319.00 L334.88,319.10 L337.27,319.19 L339.65,319.29 L342.04,319.38 L344.42,319.48 L346.80,319.57 L349.19,319.67 L351.57,319.76 L353.95,320.94 L356.34,320.52 L358.72,319.04 L361.10,318.53 L363.49,318.67 L365.87,318.81 L368.25,318.96 L370.64,319.10 L373.02,319.24 L375.40,319.39 L377.79,319.53 L380.17,319.67 L382.56,319.82 L384.94,319.93 L387.32,320.05 L389.71,320.16 L392.09,320.28 L394.47,320.40 L396.86,320.51 L399.24,320.63 L401.62,320.74 L404.01,320.86 L406.39,320.97 L408.77,321.05 L411.16,321.12 L413.54,321.19 L415.92,321.26 L418.31,321.33 L420.69,321.40 L423.07,321.48 L425.46,321.55 L427.84,321.62 L430.23,321.69 L432.61,321.69 L434.99,321.69 L437.38,321.69 L439.76,321.69 L442.14,321.69 L444.53,321.69 L446.91,321.69 L449.29,321.53 L451.68,320.29 L454.06,320.72 L456.44,321.16 L458.83,321.59 L461.21,322.02 L463.59,322.12 L465.98,322.22 L468.36,322.32 L470.74,322.42 L473.13,322.52 L475.51,322.62 L477.90,322.73 L480.28,322.83 L482.66,322.93 L485.05,323.03 L487.43,323.13 L489.81,323.23 L492.20,323.32 L494.58,323.39 L496.96,323.46 L499.35,323.53 L501.73,323.60 L504.11,323.67 L506.50,323.75 L508.88,323.82 L511.26,323.89 L513.65,323.96 L516.03,324.03 L518.41,324.10 L520.80,324.18 L523.18,324.26 L525.57,324.38 L527.95,324.51 L530.33,324.63 L532.72,324.75 L535.10,324.87 L537.48,324.99 L539.87,325.12 L542.25,325.24 L544.63,325.36 L547.02,325.48 L549.40,325.60" fill="none" stroke="#fb9a0c" stroke-width="5.4" stroke-linejoin="round" stroke-linecap="round" />
<ellipse cx="79.85" cy="308.12" rx="0.7" ry="1.0" fill="#fff"/>
<ellipse cx="82.23" cy="306.77" rx="0.7" ry="1.0" fill="#fff"/>
<ellipse cx="84.62" cy="305.42" rx="0.7" ry="1.0" fill="#fff"/>
<ellipse cx="87.00" cy="304.06" rx="0.7" ry="1.0" fill="#fff"/>
<ellipse cx="89.38" cy="302.71" rx="0.7" ry="1.0" fill="#fff"/>
<ellipse cx="91.77" cy="301.36" rx="0.7" ry="1.0" fill="#fff"/>
<ellipse cx="94.15" cy="300.43" rx="0.7" ry="1.0" fill="#fff"/>
<ellipse cx="96.53" cy="300.49" rx="0.7" ry="1.0" fill="#fff"/>
<ellipse cx="98.92" cy="300.55" rx="0.7" ry="1.0" fill="#fff"/>
<ellipse cx="101.30" cy="300.61" rx="0.7" ry="1.0" fill="#fff"/>
<ellipse cx="103.69" cy="300.67" rx="0.7" ry="1.0" fill="#fff"/>
<ellipse cx="106.07" cy="300.73" rx="0.7" ry="1.0" fill="#fff"/>
<ellipse cx="108.45" cy="300.79" rx="0.7" ry="1.0" fill="#fff"/>
<ellipse cx="110.84" cy="301.03" rx="0.7" ry="1.0" fill="#fff"/>
<ellipse cx="113.22" cy="301.27" rx="0.7" ry="1.0" fill="#fff"/>
<ellipse cx="115.60" cy="301.50" rx="0.7" ry="1.0" fill="#fff"/>
<ellipse cx="117.99" cy="301.74" rx="0.7" ry="1.0" fill="#fff"/>
<ellipse cx="120.37" cy="301.98" rx="0.7" ry="1.0" fill="#fff"/>
<ellipse cx="122.75" cy="302.22" rx="0.7" ry="1.0" fill="#fff"/>
<ellipse cx="125.14" cy="302.45" rx="0.7" ry="1.0" fill="#fff"/>
<ellipse cx="127.52" cy="302.69" rx="0.7" ry="1.0" fill="#fff"/>
<ellipse cx="129.90" cy="302.93" rx="0.7" ry="1.0" fill="#fff"/>
<ellipse cx="132.29" cy="303.16" rx="0.7" ry="1.0" fill="#fff"/>
<ellipse cx="134.67" cy="303.52" rx="0.7" ry="1.0" fill="#fff"/>
<ellipse cx="137.05" cy="303.87" rx="0.7" ry="1.0" fill="#fff"/>
<ellipse cx="139.44" cy="304.23" rx="0.7" ry="1.0" fill="#fff"/>
<ellipse cx="141.82" cy="304.58" rx="0.7" ry="1.0" fill="#fff"/>
<ellipse cx="144.21" cy="304.93" rx="0.7" ry="1.0" fill="#fff"/>
<ellipse cx="146.59" cy="305.29" rx="0.7" ry="1.0" fill="#fff"/>
<ellipse cx="148.97" cy="305.64" rx="0.7" ry="1.0" fill="#fff"/>
<ellipse cx="151.36" cy="305.71" rx="0.7" ry="1.0" fill="#fff"/>
<ellipse cx="153.74" cy="305.78" rx="0.7" ry="1.0" fill="#fff"/>
<ellipse cx="156.12" cy="305.85" rx="0.7" ry="1.0" fill="#fff"/>
<ellipse cx="158.51" cy="305.92" rx="0.7" ry="1.0" fill="#fff"/>
<ellipse cx="160.89" cy="305.20" rx="0.7" ry="1.0" fill="#fff"/>
<ellipse cx="163.27" cy="304.48" rx="0.7" ry="1.0" fill="#fff"/>
<ellipse cx="165.66" cy="305.69" rx="0.7" ry="1.0" fill="#fff"/>
<ellipse cx="168.04" cy="307.72" rx="0.7" ry="1.0" fill="#fff"/>
<ellipse cx="170.42" cy="307.36" rx="0.7" ry="1.0" fill="#fff"/>
<ellipse cx="172.81" cy="306.41" rx="0.7" ry="1.0" fill="#fff"/>
<ellipse cx="175.19" cy="306.41" rx="0.7" ry="1.0" fill="#fff"/>
<ellipse cx="177.57" cy="306.41" rx="0.7" ry="1.0" fill="#fff"/>
<ellipse cx="179.96" cy="306.41" rx="0.7" ry="1.0" fill="#fff"/>
<ellipse cx="182.34" cy="306.41" rx="0.7" ry="1.0" fill="#fff"/>
<ellipse cx="184.72" cy="306.41" rx="0.7" ry="1.0" fill="#fff"/>
<ellipse cx="187.11" cy="307.61" rx="0.7" ry="1.0" fill="#fff"/>
<ellipse cx="189.49" cy="308.80" rx="0.7" ry="1.0" fill="#fff"/>
<ellipse cx="191.88" cy="310.00" rx="0.7" ry="1.0" fill="#fff"/>
<ellipse cx="194.26" cy="310.00" rx="0.7" ry="1.0" fill="#fff"/>
<ellipse cx="196.64" cy="310.00" rx="0.7" ry="1.0" fill="#fff"/>
<ellipse cx="199.03" cy="309.87" rx="0.7" ry="1.0" fill="#fff"/>
<ellipse cx="201.41" cy="309.75" rx="0.7" ry="1.0" fill="#fff"/>
<ellipse cx="203.79" cy="309.63" rx="0.7" ry="1.0" fill="#fff"/>
<ellipse cx="206.18" cy="309.51" rx="0.7" ry="1.0" fill="#fff"/>
<ellipse cx="208.56" cy="309.39" rx="0.7" ry="1.0" fill="#fff"/>
<ellipse cx="210.94" cy="310.74" rx="0.7" ry="1.0" fill="#fff"/>
<ellipse cx="213.33" cy="312.09" rx="0.7" ry="1.0" fill="#fff"/>
<ellipse cx="215.71" cy="312.09" rx="0.7" ry="1.0" fill="#fff"/>
<ellipse cx="218.09" cy="312.09" rx="0.7" ry="1.0" fill="#fff"/>
<ellipse cx="220.48" cy="312.09" rx="0.7" ry="1.0" fill="#fff"/>
<ellipse cx="222.86" cy="311.76" rx="0.7" ry="1.0" fill="#fff"/>
<ellipse cx="225.24" cy="311.43" rx="0.7" ry="1.0" fill="#fff"/>
<ellipse cx="227.63" cy="311.10" rx="0.7" ry="1.0" fill="#fff"/>
<ellipse cx="230.01" cy="311.10" rx="0.7" ry="1.0" fill="#fff"/>
<ellipse cx="232.39" cy="311.10" rx="0.7" ry="1.0" fill="#fff"/>
<ellipse cx="234.78" cy="311.10" rx="0.7" ry="1.0" fill="#fff"/>
<ellipse cx="237.16" cy="311.10" rx="0.7" ry="1.0" fill="#fff"/>
<ellipse cx="239.55" cy="311.10" rx="0.7" ry="1.0" fill="#fff"/>
<ellipse cx="241.93" cy="311.10" rx="0.7" ry="1.0" fill="#fff"/>
<ellipse cx="244.31" cy="311.10" rx="0.7" ry="1.0" fill="#fff"/>
<ellipse cx="246.70" cy="311.10" rx="0.7" ry="1.0" fill="#fff"/>
<ellipse cx="249.08" cy="311.10" rx="0.7" ry="1.0" fill="#fff"/>
<ellipse cx="251.46" cy="311.10" rx="0.7" ry="1.0" fill="#fff"/>
<ellipse cx="253.85" cy="311.10" rx="0.7" ry="1.0" fill="#fff"/>
<ellipse cx="256.23" cy="311.10" rx="0.7" ry="1.0" fill="#fff"/>
<ellipse cx="258.61" cy="311.10" rx="0.7" ry="1.0" fill="#fff"/>
<ellipse cx="261.00" cy="311.10" rx="0.7" ry="1.0" fill="#fff"/>
<ellipse cx="263.38" cy="311.10" rx="0.7" ry="1.0" fill="#fff"/>
<ellipse cx="265.76" cy="311.10" rx="0.7" ry="1.0" fill="#fff"/>
<ellipse cx="268.15" cy="311.10" rx="0.7" ry="1.0" fill="#fff"/>
<ellipse cx="270.53" cy="313.89" rx="0.7" ry="1.0" fill="#fff"/>
<ellipse cx="272.91" cy="315.35" rx="0.7" ry="1.0" fill="#fff"/>
<ellipse cx="275.30" cy="315.48" rx="0.7" ry="1.0" fill="#fff"/>
<ellipse cx="277.68" cy="315.61" rx="0.7" ry="1.0" fill="#fff"/>
<ellipse cx="280.06" cy="315.74" rx="0.7" ry="1.0" fill="#fff"/>
<ellipse cx="282.45" cy="315.87" rx="0.7" ry="1.0" fill="#fff"/>
<ellipse cx="284.83" cy="316.00" rx="0.7" ry="1.0" fill="#fff"/>
<ellipse cx="287.22" cy="316.13" rx="0.7" ry="1.0" fill="#fff"/>
<ellipse cx="289.60" cy="316.26" rx="0.7" ry="1.0" fill="#fff"/>
<ellipse cx="291.98" cy="316.39" rx="0.7" ry="1.0" fill="#fff"/>
<ellipse cx="294.37" cy="316.52" rx="0.7" ry="1.0" fill="#fff"/>
<ellipse cx="296.75" cy="316.66" rx="0.7" ry="1.0" fill="#fff"/>
<ellipse cx="299.13" cy="316.80" rx="0.7" ry="1.0" fill="#fff"/>
<ellipse cx="301.52" cy="316.94" rx="0.7" ry="1.0" fill="#fff"/>
<ellipse cx="303.90" cy="317.08" rx="0.7" ry="1.0" fill="#fff"/>
<ellipse cx="306.28" cy="317.21" rx="0.7" ry="1.0" fill="#fff"/>
<ellipse cx="308.67" cy="317.35" rx="0.7" ry="1.0" fill="#fff"/>
<ellipse cx="311.05" cy="317.49" rx="0.7" ry="1.0" fill="#fff"/>
<ellipse cx="313.43" cy="317.63" rx="0.7" ry="1.0" fill="#fff"/>
<ellipse cx="315.82" cy="317.76" rx="0.7" ry="1.0" fill="#fff"/>
<ellipse cx="318.20" cy="317.90" rx="0.7" ry="1.0" fill="#fff"/>
<ellipse cx="320.58" cy="318.04" rx="0.7" ry="1.0" fill="#fff"/>
<ellipse cx="322.97" cy="318.18" rx="0.7" ry="1.0" fill="#fff"/>
<ellipse cx="325.35" cy="318.32" rx="0.7" ry="1.0" fill="#fff"/>
<ellipse cx="327.73" cy="318.41" rx="0.7" ry="1.0" fill="#fff"/>
<ellipse cx="330.12" cy="318.51" rx="0.7" ry="1.0" fill="#fff"/>
<ellipse cx="332.50" cy="318.60" rx="0.7" ry="1.0" fill="#fff"/>
<ellipse cx="334.88" cy="318.70" rx="0.7" ry="1.0" fill="#fff"/>
<ellipse cx="337.27" cy="318.79" rx="0.7" ry="1.0" fill="#fff"/>
<ellipse cx="339.65" cy="318.89" rx="0.7" ry="1.0" fill="#fff"/>
<ellipse cx="342.04" cy="318.98" rx="0.7" ry="1.0" fill="#fff"/>
<ellipse cx="344.42" cy="319.08" rx="0.7" ry="1.0" fill="#fff"/>
<ellipse cx="346.80" cy="319.17" rx="0.7" ry="1.0" fill="#fff"/>
<ellipse cx="349.19" cy="319.27" rx="0.7" ry="1.0" fill="#fff"/>
<ellipse cx="351.57" cy="319.36" rx="0.7" ry="1.0" fill="#fff"/>
<ellipse cx="353.95" cy="320.54" rx="0.7" ry="1.0" fill="#fff"/>
<ellipse cx="356.34" cy="320.12" rx="0.7" ry="1.0" fill="#fff"/>
<ellipse cx="358.72" cy="318.64" rx="0.7" ry="1.0" fill="#fff"/>
<ellipse cx="361.10" cy="318.13" rx="0.7" ry="1.0" fill="#fff"/>
<ellipse cx="363.49" cy="318.27" rx="0.7" ry="1.0" fill="#fff"/>
<ellipse cx="365.87" cy="318.41" rx="0.7" ry="1.0" fill="#fff"/>
<ellipse cx="368.25" cy="318.56" rx="0.7" ry="1.0" fill="#fff"/>
<ellipse cx="370.64" cy="318.70" rx="0.7" ry="1.0" fill="#fff"/>
<ellipse cx="373.02" cy="318.84" rx="0.7" ry="1.0" fill="#fff"/>
<ellipse cx="375.40" cy="318.99" rx="0.7" ry="1.0" fill="#fff"/>
<ellipse cx="377.79" cy="319.13" rx="0.7" ry="1.0" fill="#fff"/>
<ellipse cx="380.17" cy="319.27" rx="0.7" ry="1.0" fill="#fff"/>
<ellipse cx="382.56" cy="319.42" rx="0.7" ry="1.0" fill="#fff"/>
<ellipse cx="384.94" cy="319.53" rx="0.7" ry="1.0" fill="#fff"/>
<ellipse cx="387.32" cy="319.65" rx="0.7" ry="1.0" fill="#fff"/>
<ellipse cx="389.71" cy="319.76" rx="0.7" ry="1.0" fill="#fff"/>
<ellipse cx="392.09" cy="319.88" rx="0.7" ry="1.0" fill="#fff"/>
<ellipse cx="394.47" cy="320.00" rx="0.7" ry="1.0" fill="#fff"/>
<ellipse cx="396.86" cy="320.11" rx="0.7" ry="1.0" fill="#fff"/>
<ellipse cx="399.24" cy="320.23" rx="0.7" ry="1.0" fill="#fff"/>
<ellipse cx="401.62" cy="320.34" rx="0.7" ry="1.0" fill="#fff"/>
<ellipse cx="404.01" cy="320.46" rx="0.7" ry="1.0" fill="#fff"/>
<ellipse cx="406.39" cy="320.57" rx="0.7" ry="1.0" fill="#fff"/>
<ellipse cx="408.77" cy="320.65" rx="0.7" ry="1.0" fill="#fff"/>
<ellipse cx="411.16" cy="320.72" rx="0.7" ry="1.0" fill="#fff"/>
<ellipse cx="413.54" cy="320.79" rx="0.7" ry="1.0" fill="#fff"/>
<ellipse cx="415.92" cy="320.86" rx="0.7" ry="1.0" fill="#fff"/>
<ellipse cx="418.31" cy="320.93" rx="0.7" ry="1.0" fill="#fff"/>
<ellipse cx="420.69" cy="321.00" rx="0.7" ry="1.0" fill="#fff"/>
<ellipse cx="423.07" cy="321.08" rx="0.7" ry="1.0" fill="#fff"/>
<ellipse cx="425.46" cy="321.15" rx="0.7" ry="1.0" fill="#fff"/>
<ellipse cx="427.84" cy="321.22" rx="0.7" ry="1.0" fill="#fff"/>
<ellipse cx="430.23" cy="321.29" rx="0.7" ry="1.0" fill="#fff"/>
<ellipse cx="432.61" cy="321.29" rx="0.7" ry="1.0" fill="#fff"/>
<ellipse cx="434.99" cy="321.29" rx="0.7" ry="1.0" fill="#fff"/>
<ellipse cx="437.38" cy="321.29" rx="0.7" ry="1.0" fill="#fff"/>
<ellipse cx="439.76" cy="321.29" rx="0.7" ry="1.0" fill="#fff"/>
<ellipse cx="442.14" cy="321.29" rx="0.7" ry="1.0" fill="#fff"/>
<ellipse cx="444.53" cy="321.29" rx="0.7" ry="1.0" fill="#fff"/>
<ellipse cx="446.91" cy="321.29" rx="0.7" ry="1.0" fill="#fff"/>
<ellipse cx="449.29" cy="321.13" rx="0.7" ry="1.0" fill="#fff"/>
<ellipse cx="451.68" cy="319.89" rx="0.7" ry="1.0" fill="#fff"/>
<ellipse cx="454.06" cy="320.32" rx="0.7" ry="1.0" fill="#fff"/>
<ellipse cx="456.44" cy="320.76" rx="0.7" ry="1.0" fill="#fff"/>
<ellipse cx="458.83" cy="321.19" rx="0.7" ry="1.0" fill="#fff"/>
<ellipse cx="461.21" cy="321.62" rx="0.7" ry="1.0" fill="#fff"/>
<ellipse cx="463.59" cy="321.72" rx="0.7" ry="1.0" fill="#fff"/>
<ellipse cx="465.98" cy="321.82" rx="0.7" ry="1.0" fill="#fff"/>
<ellipse cx="468.36" cy="321.92" rx="0.7" ry="1.0" fill="#fff"/>
<ellipse cx="470.74" cy="322.02" rx="0.7" ry="1.0" fill="#fff"/>
<ellipse cx="473.13" cy="322.12" rx="0.7" ry="1.0" fill="#fff"/>
<ellipse cx="475.51" cy="322.22" rx="0.7" ry="1.0" fill="#fff"/>
<ellipse cx="477.90" cy="322.33" rx="0.7" ry="1.0" fill="#fff"/>
<ellipse cx="480.28" cy="322.43" rx="0.7" ry="1.0" fill="#fff"/>
<ellipse cx="482.66" cy="322.53" rx="0.7" ry="1.0" fill="#fff"/>
<ellipse cx="485.05" cy="322.63" rx="0.7" ry="1.0" fill="#fff"/>
<ellipse cx="487.43" cy="322.73" rx="0.7" ry="1.0" fill="#fff"/>
<ellipse cx="489.81" cy="322.83" rx="0.7" ry="1.0" fill="#fff"/>
<ellipse cx="492.20" cy="322.92" rx="0.7" ry="1.0" fill="#fff"/>
<ellipse cx="494.58" cy="322.99" rx="0.7" ry="1.0" fill="#fff"/>
<ellipse cx="496.96" cy="323.06" rx="0.7" ry="1.0" fill="#fff"/>
<ellipse cx="499.35" cy="323.13" rx="0.7" ry="1.0" fill="#fff"/>
<ellipse cx="501.73" cy="323.20" rx="0.7" ry="1.0" fill="#fff"/>
<ellipse cx="504.11" cy="323.27" rx="0.7" ry="1.0" fill="#fff"/>
<ellipse cx="506.50" cy="323.35" rx="0.7" ry="1.0" fill="#fff"/>
<ellipse cx="508.88" cy="323.42" rx="0.7" ry="1.0" fill="#fff"/>
<ellipse cx="511.26" cy="323.49" rx="0.7" ry="1.0" fill="#fff"/>
<ellipse cx="513.65" cy="323.56" rx="0.7" ry="1.0" fill="#fff"/>
<ellipse cx="516.03" cy="323.63" rx="0.7" ry="1.0" fill="#fff"/>
<ellipse cx="518.41" cy="323.70" rx="0.7" ry="1.0" fill="#fff"/>
<ellipse cx="520.80" cy="323.78" rx="0.7" ry="1.0" fill="#fff"/>
<ellipse cx="523.18" cy="323.86" rx="0.7" ry="1.0" fill="#fff"/>
<ellipse cx="525.57" cy="323.98" rx="0.7" ry="1.0" fill="#fff"/>
<ellipse cx="527.95" cy="324.11" rx="0.7" ry="1.0" fill="#fff"/>
<ellipse cx="530.33" cy="324.23" rx="0.7" ry="1.0" fill="#fff"/>
<ellipse cx="532.72" cy="324.35" rx="0.7" ry="1.0" fill="#fff"/>
<ellipse cx="535.10" cy="324.47" rx="0.7" ry="1.0" fill="#fff"/>
<ellipse cx="537.48" cy="324.59" rx="0.7" ry="1.0" fill="#fff"/>
<ellipse cx="539.87" cy="324.72" rx="0.7" ry="1.0" fill="#fff"/>
<ellipse cx="542.25" cy="324.84" rx="0.7" ry="1.0" fill="#fff"/>
<ellipse cx="544.63" cy="324.96" rx="0.7" ry="1.0" fill="#fff"/>
<ellipse cx="547.02" cy="325.08" rx="0.7" ry="1.0" fill="#fff"/>
<ellipse cx="549.40" cy="325.20" rx="0.7" ry="1.0" fill="#fff"/>
<circle cx="75.08" cy="285.00" r="2.15" fill="none" stroke="#fb9a0c" stroke-width="2.0"/>
<ellipse cx="75.08" cy="284.70" rx="0.8" ry="1.0" fill="#fff"/>
<circle cx="77.47" cy="287.00" r="2.15" fill="none" stroke="#fb9a0c" stroke-width="2.0"/>
<ellipse cx="77.47" cy="286.70" rx="0.8" ry="1.0" fill="#fff"/>
</g>
<line x1="72.70" y1="225.00" x2="549.40" y2="225.00" stroke="#1a1a1a" stroke-width="1.3" />
<line x1="72.70" y1="225.00" x2="72.70" y2="406.90" stroke="#1a1a1a" stroke-width="1.3" />
<line x1="72.70" y1="406.90" x2="549.40" y2="406.90" stroke="#1a1a1a" stroke-width="1.3" />
<line x1="549.40" y1="225.00" x2="549.40" y2="407.50" stroke="#0a0af5" stroke-width="1.4" />
<line x1="69.50" y1="406.60" x2="72.70" y2="406.60" stroke="#1a1a1a" stroke-width="1.3" />
<text x="67.50" y="410.70" font-size="10.5" text-anchor="end" fill="#111" stroke="#111" stroke-width="0.3" >0</text>
<line x1="69.50" y1="373.54" x2="72.70" y2="373.54" stroke="#1a1a1a" stroke-width="1.3" />
<text x="67.50" y="377.64" font-size="10.5" text-anchor="end" fill="#111" stroke="#111" stroke-width="0.3" >60</text>
<line x1="69.50" y1="340.48" x2="72.70" y2="340.48" stroke="#1a1a1a" stroke-width="1.3" />
<text x="67.50" y="344.58" font-size="10.5" text-anchor="end" fill="#111" stroke="#111" stroke-width="0.3" >120</text>
<line x1="69.50" y1="307.42" x2="72.70" y2="307.42" stroke="#1a1a1a" stroke-width="1.3" />
<text x="67.50" y="311.52" font-size="10.5" text-anchor="end" fill="#111" stroke="#111" stroke-width="0.3" >180</text>
<line x1="69.50" y1="274.36" x2="72.70" y2="274.36" stroke="#1a1a1a" stroke-width="1.3" />
<text x="67.50" y="278.46" font-size="10.5" text-anchor="end" fill="#111" stroke="#111" stroke-width="0.3" >240</text>
<line x1="69.50" y1="241.30" x2="72.70" y2="241.30" stroke="#1a1a1a" stroke-width="1.3" />
<text x="67.50" y="245.40" font-size="10.5" text-anchor="end" fill="#111" stroke="#111" stroke-width="0.3" >300</text>
<line x1="70.90" y1="390.07" x2="72.70" y2="390.07" stroke="#1a1a1a" stroke-width="1.3" />
<line x1="70.90" y1="357.01" x2="72.70" y2="357.01" stroke="#1a1a1a" stroke-width="1.3" />
<line x1="70.90" y1="323.95" x2="72.70" y2="323.95" stroke="#1a1a1a" stroke-width="1.3" />
<line x1="70.90" y1="290.89" x2="72.70" y2="290.89" stroke="#1a1a1a" stroke-width="1.3" />
<line x1="70.90" y1="257.83" x2="72.70" y2="257.83" stroke="#1a1a1a" stroke-width="1.3" />
<line x1="70.90" y1="224.77" x2="72.70" y2="224.77" stroke="#1a1a1a" stroke-width="1.3" />
<line x1="549.40" y1="406.60" x2="552.80" y2="406.60" stroke="#0a0af5" stroke-width="1.3" />
<text x="555.50" y="410.30" font-size="10.5" text-anchor="start" fill="#0a0af5" stroke="#0a0af5" stroke-width="0.3" >0</text>
<line x1="549.40" y1="372.92" x2="552.80" y2="372.92" stroke="#0a0af5" stroke-width="1.3" />
<text x="555.50" y="376.62" font-size="10.5" text-anchor="start" fill="#0a0af5" stroke="#0a0af5" stroke-width="0.3" >20</text>
<line x1="549.40" y1="339.24" x2="552.80" y2="339.24" stroke="#0a0af5" stroke-width="1.3" />
<text x="555.50" y="342.94" font-size="10.5" text-anchor="start" fill="#0a0af5" stroke="#0a0af5" stroke-width="0.3" >40</text>
<line x1="549.40" y1="305.56" x2="552.80" y2="305.56" stroke="#0a0af5" stroke-width="1.3" />
<text x="555.50" y="309.26" font-size="10.5" text-anchor="start" fill="#0a0af5" stroke="#0a0af5" stroke-width="0.3" >60</text>
<line x1="549.40" y1="271.88" x2="552.80" y2="271.88" stroke="#0a0af5" stroke-width="1.3" />
<text x="555.50" y="275.58" font-size="10.5" text-anchor="start" fill="#0a0af5" stroke="#0a0af5" stroke-width="0.3" >80</text>
<line x1="549.40" y1="238.20" x2="552.80" y2="238.20" stroke="#0a0af5" stroke-width="1.3" />
<text x="555.50" y="241.90" font-size="10.5" text-anchor="start" fill="#0a0af5" stroke="#0a0af5" stroke-width="0.3" >100</text>
<line x1="549.40" y1="389.76" x2="551.30" y2="389.76" stroke="#0a0af5" stroke-width="1.3" />
<line x1="549.40" y1="356.08" x2="551.30" y2="356.08" stroke="#0a0af5" stroke-width="1.3" />
<line x1="549.40" y1="322.40" x2="551.30" y2="322.40" stroke="#0a0af5" stroke-width="1.3" />
<line x1="549.40" y1="288.72" x2="551.30" y2="288.72" stroke="#0a0af5" stroke-width="1.3" />
<line x1="549.40" y1="255.04" x2="551.30" y2="255.04" stroke="#0a0af5" stroke-width="1.3" />
<line x1="72.70" y1="406.90" x2="72.70" y2="410.10" stroke="#1a1a1a" stroke-width="1.3" />
<text x="72.70" y="421.50" font-size="10.5" text-anchor="middle" fill="#111" stroke="#111" stroke-width="0.3" >0</text>
<line x1="168.04" y1="406.90" x2="168.04" y2="410.10" stroke="#1a1a1a" stroke-width="1.3" />
<text x="168.04" y="421.50" font-size="10.5" text-anchor="middle" fill="#111" stroke="#111" stroke-width="0.3" >40</text>
<line x1="263.38" y1="406.90" x2="263.38" y2="410.10" stroke="#1a1a1a" stroke-width="1.3" />
<text x="263.38" y="421.50" font-size="10.5" text-anchor="middle" fill="#111" stroke="#111" stroke-width="0.3" >80</text>
<line x1="358.72" y1="406.90" x2="358.72" y2="410.10" stroke="#1a1a1a" stroke-width="1.3" />
<text x="358.72" y="421.50" font-size="10.5" text-anchor="middle" fill="#111" stroke="#111" stroke-width="0.3" >120</text>
<line x1="454.06" y1="406.90" x2="454.06" y2="410.10" stroke="#1a1a1a" stroke-width="1.3" />
<text x="454.06" y="421.50" font-size="10.5" text-anchor="middle" fill="#111" stroke="#111" stroke-width="0.3" >160</text>
<line x1="549.40" y1="406.90" x2="549.40" y2="410.10" stroke="#1a1a1a" stroke-width="1.3" />
<text x="549.40" y="421.50" font-size="10.5" text-anchor="middle" fill="#111" stroke="#111" stroke-width="0.3" >200</text>
<line x1="120.37" y1="406.90" x2="120.37" y2="408.70" stroke="#1a1a1a" stroke-width="1.3" />
<line x1="215.71" y1="406.90" x2="215.71" y2="408.70" stroke="#1a1a1a" stroke-width="1.3" />
<line x1="311.05" y1="406.90" x2="311.05" y2="408.70" stroke="#1a1a1a" stroke-width="1.3" />
<line x1="406.39" y1="406.90" x2="406.39" y2="408.70" stroke="#1a1a1a" stroke-width="1.3" />
<line x1="501.73" y1="406.90" x2="501.73" y2="408.70" stroke="#1a1a1a" stroke-width="1.3" />
<circle cx="78.60" cy="361.60" r="2.90" fill="#555555"/>
<circle cx="78.00" cy="360.70" r="0.9" fill="#fff" opacity="0.85"/>
<text x="92.40" y="365.20" font-size="9.9" text-anchor="start" fill="#111" stroke="#111" stroke-width="0.3" >S-LCO</text>
<circle cx="78.60" cy="374.00" r="2.90" fill="#ff0a2c"/>
<circle cx="78.00" cy="373.10" r="0.9" fill="#fff" opacity="0.85"/>
<text x="92.40" y="377.60" font-size="9.9" text-anchor="start" fill="#111" stroke="#111" stroke-width="0.3" >R-LCO</text>
<circle cx="78.60" cy="386.40" r="2.90" fill="#78c244"/>
<circle cx="78.00" cy="385.50" r="0.9" fill="#fff" opacity="0.85"/>
<text x="92.40" y="390.00" font-size="9.9" text-anchor="start" fill="#111" stroke="#111" stroke-width="0.3" >B-LCO</text>
<circle cx="78.60" cy="398.70" r="2.90" fill="#fb9a0c"/>
<circle cx="78.00" cy="397.80" r="0.9" fill="#fff" opacity="0.85"/>
<text x="92.40" y="402.30" font-size="9.9" text-anchor="start" fill="#111" stroke="#111" stroke-width="0.3" >MP-LCO@LCO/CP</text>
<text x="501.00" y="400.00" font-size="10.2" text-anchor="start" fill="#111" stroke="#111" stroke-width="0.3" >3.0-4.6 V</text>
<path d="M492.8,249.1 L492.8,263.9 L535,263.9" fill="none" stroke="#222" stroke-width="1.3" stroke-linejoin="round" stroke-linecap="round" stroke-linecap="butt"/>
<path d="M534,261.3 L542,263.9 L534,266.5 z" fill="#222"/>
<text x="0" y="0" font-size="14" text-anchor="middle" fill="#111" stroke="#111" stroke-width="0.3" transform="translate(44.0 316.5) rotate(-90)">Specific capacity (mAh g<tspan dy="-6.3" font-size="8.8">-1</tspan><tspan dy="6.3">)</tspan></text>
<text x="590.20" y="321.10" font-size="13.8" text-anchor="middle" fill="#0a0af5" stroke="#0a0af5" stroke-width="0.3" transform="rotate(-90 590.20 321.10)" >Coulombic efficiency (%)</text>
<text x="316.90" y="440.20" font-size="14" text-anchor="middle" fill="#111" stroke="#111" stroke-width="0.3" >Cycle number (n)</text>
<text x="10.70" y="216.90" font-size="20.5" text-anchor="start" fill="#111" stroke="#111" stroke-width="0.3" >(c)</text>
</svg></body></html>
